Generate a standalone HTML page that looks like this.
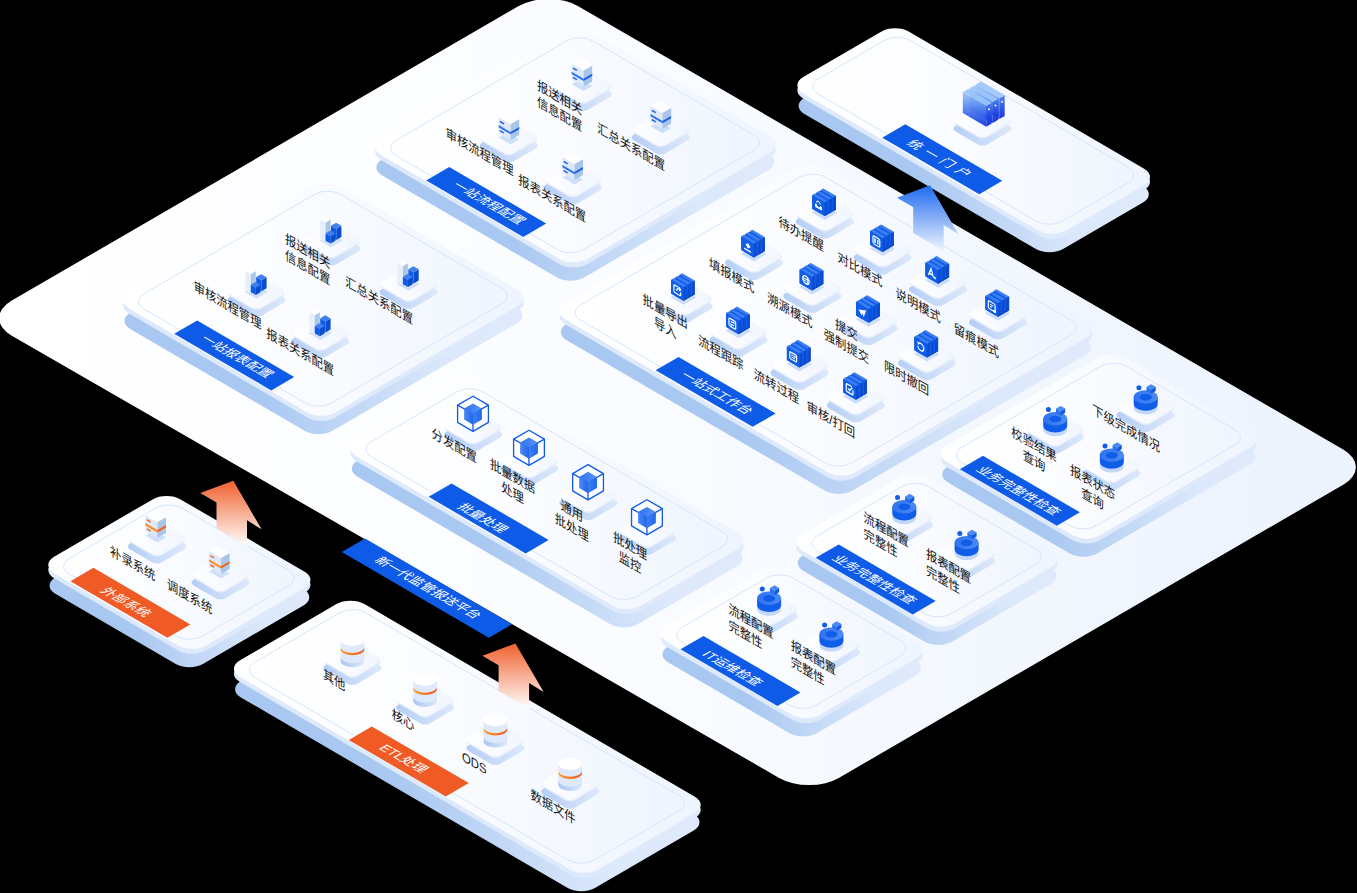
<!DOCTYPE html>
<html lang="zh"><head><meta charset="utf-8"><title>新一代监管报送平台</title>
<style>html,body{margin:0;padding:0;background:#000;}body{width:1357px;height:893px;overflow:hidden;font-family:"Liberation Sans","Noto Sans CJK SC",sans-serif;}svg{display:block}svg text{font-family:"Liberation Sans","Noto Sans CJK SC",sans-serif;}</style>
</head><body>
<svg width="1357" height="893" viewBox="0 0 1357 893">
<defs>
<linearGradient id="g1" gradientUnits="userSpaceOnUse" x1="0" y1="0" x2="1357" y2="0"><stop offset="0" stop-color="#FFFFFF"/><stop offset="0.45" stop-color="#FAFCFF"/><stop offset="1" stop-color="#ECF3FE"/></linearGradient>
<linearGradient id="g2" gradientUnits="userSpaceOnUse" x1="367" y1="0" x2="783.8" y2="0"><stop offset="0" stop-color="#A9C8F1"/><stop offset="0.35" stop-color="#A9C8F1"/><stop offset="0.8" stop-color="#DCE8FB"/><stop offset="1" stop-color="#E0EAFC"/></linearGradient>
<linearGradient id="g3" gradientUnits="userSpaceOnUse" x1="367" y1="0" x2="783.8" y2="0"><stop offset="0" stop-color="#FFFFFF"/><stop offset="0.35" stop-color="#FCFDFF"/><stop offset="1" stop-color="#EEF4FE"/></linearGradient>
<linearGradient id="g4" gradientUnits="userSpaceOnUse" x1="551.9" y1="0" x2="613.9" y2="0"><stop offset="0" stop-color="#B3CDF5"/><stop offset="1" stop-color="#DFE9FB"/></linearGradient>
<linearGradient id="g5" gradientUnits="userSpaceOnUse" x1="551.9" y1="0" x2="613.9" y2="0"><stop offset="0" stop-color="#FFFFFF"/><stop offset="1" stop-color="#F0F5FE"/></linearGradient>
<linearGradient id="g6" gradientUnits="userSpaceOnUse" x1="477.85" y1="0" x2="539.85" y2="0"><stop offset="0" stop-color="#B3CDF5"/><stop offset="1" stop-color="#DFE9FB"/></linearGradient>
<linearGradient id="g7" gradientUnits="userSpaceOnUse" x1="477.85" y1="0" x2="539.85" y2="0"><stop offset="0" stop-color="#FFFFFF"/><stop offset="1" stop-color="#F0F5FE"/></linearGradient>
<linearGradient id="g8" gradientUnits="userSpaceOnUse" x1="629.9" y1="0" x2="691.9" y2="0"><stop offset="0" stop-color="#B3CDF5"/><stop offset="1" stop-color="#DFE9FB"/></linearGradient>
<linearGradient id="g9" gradientUnits="userSpaceOnUse" x1="629.9" y1="0" x2="691.9" y2="0"><stop offset="0" stop-color="#FFFFFF"/><stop offset="1" stop-color="#F0F5FE"/></linearGradient>
<linearGradient id="g10" gradientUnits="userSpaceOnUse" x1="541.9" y1="0" x2="603.9" y2="0"><stop offset="0" stop-color="#B3CDF5"/><stop offset="1" stop-color="#DFE9FB"/></linearGradient>
<linearGradient id="g11" gradientUnits="userSpaceOnUse" x1="541.9" y1="0" x2="603.9" y2="0"><stop offset="0" stop-color="#FFFFFF"/><stop offset="1" stop-color="#F0F5FE"/></linearGradient>
<linearGradient id="g12" gradientUnits="userSpaceOnUse" x1="115" y1="0" x2="531.8" y2="0"><stop offset="0" stop-color="#A9C8F1"/><stop offset="0.35" stop-color="#A9C8F1"/><stop offset="0.8" stop-color="#DCE8FB"/><stop offset="1" stop-color="#E0EAFC"/></linearGradient>
<linearGradient id="g13" gradientUnits="userSpaceOnUse" x1="115" y1="0" x2="531.8" y2="0"><stop offset="0" stop-color="#FFFFFF"/><stop offset="0.35" stop-color="#FCFDFF"/><stop offset="1" stop-color="#EEF4FE"/></linearGradient>
<linearGradient id="g14" gradientUnits="userSpaceOnUse" x1="300.3" y1="0" x2="362.3" y2="0"><stop offset="0" stop-color="#B3CDF5"/><stop offset="1" stop-color="#DFE9FB"/></linearGradient>
<linearGradient id="g15" gradientUnits="userSpaceOnUse" x1="300.3" y1="0" x2="362.3" y2="0"><stop offset="0" stop-color="#FFFFFF"/><stop offset="1" stop-color="#F0F5FE"/></linearGradient>
<linearGradient id="g16" gradientUnits="userSpaceOnUse" x1="225.5" y1="0" x2="287.5" y2="0"><stop offset="0" stop-color="#B3CDF5"/><stop offset="1" stop-color="#DFE9FB"/></linearGradient>
<linearGradient id="g17" gradientUnits="userSpaceOnUse" x1="225.5" y1="0" x2="287.5" y2="0"><stop offset="0" stop-color="#FFFFFF"/><stop offset="1" stop-color="#F0F5FE"/></linearGradient>
<linearGradient id="g18" gradientUnits="userSpaceOnUse" x1="377.6" y1="0" x2="439.6" y2="0"><stop offset="0" stop-color="#B3CDF5"/><stop offset="1" stop-color="#DFE9FB"/></linearGradient>
<linearGradient id="g19" gradientUnits="userSpaceOnUse" x1="377.6" y1="0" x2="439.6" y2="0"><stop offset="0" stop-color="#FFFFFF"/><stop offset="1" stop-color="#F0F5FE"/></linearGradient>
<linearGradient id="g20" gradientUnits="userSpaceOnUse" x1="289.5" y1="0" x2="351.5" y2="0"><stop offset="0" stop-color="#B3CDF5"/><stop offset="1" stop-color="#DFE9FB"/></linearGradient>
<linearGradient id="g21" gradientUnits="userSpaceOnUse" x1="289.5" y1="0" x2="351.5" y2="0"><stop offset="0" stop-color="#FFFFFF"/><stop offset="1" stop-color="#F0F5FE"/></linearGradient>
<linearGradient id="g22" gradientUnits="userSpaceOnUse" x1="551.5" y1="0" x2="1100.45" y2="0"><stop offset="0" stop-color="#A9C8F1"/><stop offset="0.35" stop-color="#A9C8F1"/><stop offset="0.8" stop-color="#DCE8FB"/><stop offset="1" stop-color="#E0EAFC"/></linearGradient>
<linearGradient id="g23" gradientUnits="userSpaceOnUse" x1="551.5" y1="0" x2="1100.45" y2="0"><stop offset="0" stop-color="#FFFFFF"/><stop offset="0.35" stop-color="#FCFDFF"/><stop offset="1" stop-color="#EEF4FE"/></linearGradient>
<linearGradient id="g24" gradientUnits="userSpaceOnUse" x1="793.8" y1="0" x2="855.8" y2="0"><stop offset="0" stop-color="#B3CDF5"/><stop offset="1" stop-color="#DFE9FB"/></linearGradient>
<linearGradient id="g25" gradientUnits="userSpaceOnUse" x1="793.8" y1="0" x2="855.8" y2="0"><stop offset="0" stop-color="#FFFFFF"/><stop offset="1" stop-color="#F0F5FE"/></linearGradient>
<linearGradient id="g26" gradientUnits="userSpaceOnUse" x1="851.7" y1="0" x2="913.7" y2="0"><stop offset="0" stop-color="#B3CDF5"/><stop offset="1" stop-color="#DFE9FB"/></linearGradient>
<linearGradient id="g27" gradientUnits="userSpaceOnUse" x1="851.7" y1="0" x2="913.7" y2="0"><stop offset="0" stop-color="#FFFFFF"/><stop offset="1" stop-color="#F0F5FE"/></linearGradient>
<linearGradient id="g28" gradientUnits="userSpaceOnUse" x1="907" y1="0" x2="969" y2="0"><stop offset="0" stop-color="#B3CDF5"/><stop offset="1" stop-color="#DFE9FB"/></linearGradient>
<linearGradient id="g29" gradientUnits="userSpaceOnUse" x1="907" y1="0" x2="969" y2="0"><stop offset="0" stop-color="#FFFFFF"/><stop offset="1" stop-color="#F0F5FE"/></linearGradient>
<linearGradient id="g30" gradientUnits="userSpaceOnUse" x1="967" y1="0" x2="1029" y2="0"><stop offset="0" stop-color="#B3CDF5"/><stop offset="1" stop-color="#DFE9FB"/></linearGradient>
<linearGradient id="g31" gradientUnits="userSpaceOnUse" x1="967" y1="0" x2="1029" y2="0"><stop offset="0" stop-color="#FFFFFF"/><stop offset="1" stop-color="#F0F5FE"/></linearGradient>
<linearGradient id="g32" gradientUnits="userSpaceOnUse" x1="722.9" y1="0" x2="784.9" y2="0"><stop offset="0" stop-color="#B3CDF5"/><stop offset="1" stop-color="#DFE9FB"/></linearGradient>
<linearGradient id="g33" gradientUnits="userSpaceOnUse" x1="722.9" y1="0" x2="784.9" y2="0"><stop offset="0" stop-color="#FFFFFF"/><stop offset="1" stop-color="#F0F5FE"/></linearGradient>
<linearGradient id="g34" gradientUnits="userSpaceOnUse" x1="781.25" y1="0" x2="843.25" y2="0"><stop offset="0" stop-color="#B3CDF5"/><stop offset="1" stop-color="#DFE9FB"/></linearGradient>
<linearGradient id="g35" gradientUnits="userSpaceOnUse" x1="781.25" y1="0" x2="843.25" y2="0"><stop offset="0" stop-color="#FFFFFF"/><stop offset="1" stop-color="#F0F5FE"/></linearGradient>
<linearGradient id="g36" gradientUnits="userSpaceOnUse" x1="837.7" y1="0" x2="899.7" y2="0"><stop offset="0" stop-color="#B3CDF5"/><stop offset="1" stop-color="#DFE9FB"/></linearGradient>
<linearGradient id="g37" gradientUnits="userSpaceOnUse" x1="837.7" y1="0" x2="899.7" y2="0"><stop offset="0" stop-color="#FFFFFF"/><stop offset="1" stop-color="#F0F5FE"/></linearGradient>
<linearGradient id="g38" gradientUnits="userSpaceOnUse" x1="896" y1="0" x2="958" y2="0"><stop offset="0" stop-color="#B3CDF5"/><stop offset="1" stop-color="#DFE9FB"/></linearGradient>
<linearGradient id="g39" gradientUnits="userSpaceOnUse" x1="896" y1="0" x2="958" y2="0"><stop offset="0" stop-color="#FFFFFF"/><stop offset="1" stop-color="#F0F5FE"/></linearGradient>
<linearGradient id="g40" gradientUnits="userSpaceOnUse" x1="652.6" y1="0" x2="714.6" y2="0"><stop offset="0" stop-color="#B3CDF5"/><stop offset="1" stop-color="#DFE9FB"/></linearGradient>
<linearGradient id="g41" gradientUnits="userSpaceOnUse" x1="652.6" y1="0" x2="714.6" y2="0"><stop offset="0" stop-color="#FFFFFF"/><stop offset="1" stop-color="#F0F5FE"/></linearGradient>
<linearGradient id="g42" gradientUnits="userSpaceOnUse" x1="707.6" y1="0" x2="769.6" y2="0"><stop offset="0" stop-color="#B3CDF5"/><stop offset="1" stop-color="#DFE9FB"/></linearGradient>
<linearGradient id="g43" gradientUnits="userSpaceOnUse" x1="707.6" y1="0" x2="769.6" y2="0"><stop offset="0" stop-color="#FFFFFF"/><stop offset="1" stop-color="#F0F5FE"/></linearGradient>
<linearGradient id="g44" gradientUnits="userSpaceOnUse" x1="768.5" y1="0" x2="830.5" y2="0"><stop offset="0" stop-color="#B3CDF5"/><stop offset="1" stop-color="#DFE9FB"/></linearGradient>
<linearGradient id="g45" gradientUnits="userSpaceOnUse" x1="768.5" y1="0" x2="830.5" y2="0"><stop offset="0" stop-color="#FFFFFF"/><stop offset="1" stop-color="#F0F5FE"/></linearGradient>
<linearGradient id="g46" gradientUnits="userSpaceOnUse" x1="824.9" y1="0" x2="886.9" y2="0"><stop offset="0" stop-color="#B3CDF5"/><stop offset="1" stop-color="#DFE9FB"/></linearGradient>
<linearGradient id="g47" gradientUnits="userSpaceOnUse" x1="824.9" y1="0" x2="886.9" y2="0"><stop offset="0" stop-color="#FFFFFF"/><stop offset="1" stop-color="#F0F5FE"/></linearGradient>
<linearGradient id="g48" gradientUnits="userSpaceOnUse" x1="342.35" y1="0" x2="751.95" y2="0"><stop offset="0" stop-color="#A9C8F1"/><stop offset="0.35" stop-color="#A9C8F1"/><stop offset="0.8" stop-color="#DCE8FB"/><stop offset="1" stop-color="#E0EAFC"/></linearGradient>
<linearGradient id="g49" gradientUnits="userSpaceOnUse" x1="342.35" y1="0" x2="751.95" y2="0"><stop offset="0" stop-color="#FFFFFF"/><stop offset="0.35" stop-color="#FCFDFF"/><stop offset="1" stop-color="#EEF4FE"/></linearGradient>
<linearGradient id="g50" gradientUnits="userSpaceOnUse" x1="442.3" y1="0" x2="504.3" y2="0"><stop offset="0" stop-color="#B3CDF5"/><stop offset="1" stop-color="#DFE9FB"/></linearGradient>
<linearGradient id="g51" gradientUnits="userSpaceOnUse" x1="442.3" y1="0" x2="504.3" y2="0"><stop offset="0" stop-color="#FFFFFF"/><stop offset="1" stop-color="#F0F5FE"/></linearGradient>
<linearGradient id="g52" gradientUnits="userSpaceOnUse" x1="464.1" y1="413.8" x2="481.9" y2="413.8"><stop offset="0" stop-color="#2D72F0"/><stop offset="1" stop-color="#5B93F4"/></linearGradient>
<linearGradient id="g53" gradientUnits="userSpaceOnUse" x1="464.1" y1="413.8" x2="473" y2="413.8"><stop offset="0" stop-color="#4F8AF3"/><stop offset="1" stop-color="#1E66EC"/></linearGradient>
<linearGradient id="g54" gradientUnits="userSpaceOnUse" x1="473" y1="413.8" x2="481.9" y2="413.8"><stop offset="0" stop-color="#3F7EF1"/><stop offset="1" stop-color="#1F67EC"/></linearGradient>
<linearGradient id="g55" gradientUnits="userSpaceOnUse" x1="498.3" y1="0" x2="560.3" y2="0"><stop offset="0" stop-color="#B3CDF5"/><stop offset="1" stop-color="#DFE9FB"/></linearGradient>
<linearGradient id="g56" gradientUnits="userSpaceOnUse" x1="498.3" y1="0" x2="560.3" y2="0"><stop offset="0" stop-color="#FFFFFF"/><stop offset="1" stop-color="#F0F5FE"/></linearGradient>
<linearGradient id="g57" gradientUnits="userSpaceOnUse" x1="520.1" y1="447.8" x2="537.9" y2="447.8"><stop offset="0" stop-color="#2D72F0"/><stop offset="1" stop-color="#5B93F4"/></linearGradient>
<linearGradient id="g58" gradientUnits="userSpaceOnUse" x1="520.1" y1="447.8" x2="529" y2="447.8"><stop offset="0" stop-color="#4F8AF3"/><stop offset="1" stop-color="#1E66EC"/></linearGradient>
<linearGradient id="g59" gradientUnits="userSpaceOnUse" x1="529" y1="447.8" x2="537.9" y2="447.8"><stop offset="0" stop-color="#3F7EF1"/><stop offset="1" stop-color="#1F67EC"/></linearGradient>
<linearGradient id="g60" gradientUnits="userSpaceOnUse" x1="557.35" y1="0" x2="619.35" y2="0"><stop offset="0" stop-color="#B3CDF5"/><stop offset="1" stop-color="#DFE9FB"/></linearGradient>
<linearGradient id="g61" gradientUnits="userSpaceOnUse" x1="557.35" y1="0" x2="619.35" y2="0"><stop offset="0" stop-color="#FFFFFF"/><stop offset="1" stop-color="#F0F5FE"/></linearGradient>
<linearGradient id="g62" gradientUnits="userSpaceOnUse" x1="579.15" y1="482.25" x2="596.95" y2="482.25"><stop offset="0" stop-color="#2D72F0"/><stop offset="1" stop-color="#5B93F4"/></linearGradient>
<linearGradient id="g63" gradientUnits="userSpaceOnUse" x1="579.15" y1="482.25" x2="588.05" y2="482.25"><stop offset="0" stop-color="#4F8AF3"/><stop offset="1" stop-color="#1E66EC"/></linearGradient>
<linearGradient id="g64" gradientUnits="userSpaceOnUse" x1="588.05" y1="482.25" x2="596.95" y2="482.25"><stop offset="0" stop-color="#3F7EF1"/><stop offset="1" stop-color="#1F67EC"/></linearGradient>
<linearGradient id="g65" gradientUnits="userSpaceOnUse" x1="616.25" y1="0" x2="678.25" y2="0"><stop offset="0" stop-color="#B3CDF5"/><stop offset="1" stop-color="#DFE9FB"/></linearGradient>
<linearGradient id="g66" gradientUnits="userSpaceOnUse" x1="616.25" y1="0" x2="678.25" y2="0"><stop offset="0" stop-color="#FFFFFF"/><stop offset="1" stop-color="#F0F5FE"/></linearGradient>
<linearGradient id="g67" gradientUnits="userSpaceOnUse" x1="638.05" y1="517.3" x2="655.85" y2="517.3"><stop offset="0" stop-color="#2D72F0"/><stop offset="1" stop-color="#5B93F4"/></linearGradient>
<linearGradient id="g68" gradientUnits="userSpaceOnUse" x1="638.05" y1="517.3" x2="646.95" y2="517.3"><stop offset="0" stop-color="#4F8AF3"/><stop offset="1" stop-color="#1E66EC"/></linearGradient>
<linearGradient id="g69" gradientUnits="userSpaceOnUse" x1="646.95" y1="517.3" x2="655.85" y2="517.3"><stop offset="0" stop-color="#3F7EF1"/><stop offset="1" stop-color="#1F67EC"/></linearGradient>
<linearGradient id="g70" gradientUnits="userSpaceOnUse" x1="932.85" y1="0" x2="1264.8" y2="0"><stop offset="0" stop-color="#A9C8F1"/><stop offset="0.35" stop-color="#A9C8F1"/><stop offset="0.8" stop-color="#DCE8FB"/><stop offset="1" stop-color="#E0EAFC"/></linearGradient>
<linearGradient id="g71" gradientUnits="userSpaceOnUse" x1="932.85" y1="0" x2="1264.8" y2="0"><stop offset="0" stop-color="#FFFFFF"/><stop offset="0.35" stop-color="#FCFDFF"/><stop offset="1" stop-color="#EEF4FE"/></linearGradient>
<linearGradient id="g72" gradientUnits="userSpaceOnUse" x1="788.35" y1="0" x2="1065.75" y2="0"><stop offset="0" stop-color="#A9C8F1"/><stop offset="0.35" stop-color="#A9C8F1"/><stop offset="0.8" stop-color="#DCE8FB"/><stop offset="1" stop-color="#E0EAFC"/></linearGradient>
<linearGradient id="g73" gradientUnits="userSpaceOnUse" x1="788.35" y1="0" x2="1065.75" y2="0"><stop offset="0" stop-color="#FFFFFF"/><stop offset="0.35" stop-color="#FCFDFF"/><stop offset="1" stop-color="#EEF4FE"/></linearGradient>
<linearGradient id="g74" gradientUnits="userSpaceOnUse" x1="653.15" y1="0" x2="930.55" y2="0"><stop offset="0" stop-color="#A9C8F1"/><stop offset="0.35" stop-color="#A9C8F1"/><stop offset="0.8" stop-color="#DCE8FB"/><stop offset="1" stop-color="#E0EAFC"/></linearGradient>
<linearGradient id="g75" gradientUnits="userSpaceOnUse" x1="653.15" y1="0" x2="930.55" y2="0"><stop offset="0" stop-color="#FFFFFF"/><stop offset="0.35" stop-color="#FCFDFF"/><stop offset="1" stop-color="#EEF4FE"/></linearGradient>
<linearGradient id="g76" gradientUnits="userSpaceOnUse" x1="1024" y1="0" x2="1086" y2="0"><stop offset="0" stop-color="#B3CDF5"/><stop offset="1" stop-color="#DFE9FB"/></linearGradient>
<linearGradient id="g77" gradientUnits="userSpaceOnUse" x1="1024" y1="0" x2="1086" y2="0"><stop offset="0" stop-color="#FFFFFF"/><stop offset="1" stop-color="#F0F5FE"/></linearGradient>
<linearGradient id="g78" gradientUnits="userSpaceOnUse" x1="1043.2" y1="0" x2="1067.2" y2="0"><stop offset="0" stop-color="#2F73F0"/><stop offset="1" stop-color="#4D8AF4"/></linearGradient>
<linearGradient id="g79" gradientUnits="userSpaceOnUse" x1="1114.5" y1="0" x2="1176.5" y2="0"><stop offset="0" stop-color="#B3CDF5"/><stop offset="1" stop-color="#DFE9FB"/></linearGradient>
<linearGradient id="g80" gradientUnits="userSpaceOnUse" x1="1114.5" y1="0" x2="1176.5" y2="0"><stop offset="0" stop-color="#FFFFFF"/><stop offset="1" stop-color="#F0F5FE"/></linearGradient>
<linearGradient id="g81" gradientUnits="userSpaceOnUse" x1="1133.7" y1="0" x2="1157.7" y2="0"><stop offset="0" stop-color="#2F73F0"/><stop offset="1" stop-color="#4D8AF4"/></linearGradient>
<linearGradient id="g82" gradientUnits="userSpaceOnUse" x1="1080.6" y1="0" x2="1142.6" y2="0"><stop offset="0" stop-color="#B3CDF5"/><stop offset="1" stop-color="#DFE9FB"/></linearGradient>
<linearGradient id="g83" gradientUnits="userSpaceOnUse" x1="1080.6" y1="0" x2="1142.6" y2="0"><stop offset="0" stop-color="#FFFFFF"/><stop offset="1" stop-color="#F0F5FE"/></linearGradient>
<linearGradient id="g84" gradientUnits="userSpaceOnUse" x1="1099.8" y1="0" x2="1123.8" y2="0"><stop offset="0" stop-color="#2F73F0"/><stop offset="1" stop-color="#4D8AF4"/></linearGradient>
<linearGradient id="g85" gradientUnits="userSpaceOnUse" x1="873.1" y1="0" x2="935.1" y2="0"><stop offset="0" stop-color="#B3CDF5"/><stop offset="1" stop-color="#DFE9FB"/></linearGradient>
<linearGradient id="g86" gradientUnits="userSpaceOnUse" x1="873.1" y1="0" x2="935.1" y2="0"><stop offset="0" stop-color="#FFFFFF"/><stop offset="1" stop-color="#F0F5FE"/></linearGradient>
<linearGradient id="g87" gradientUnits="userSpaceOnUse" x1="892.3" y1="0" x2="916.3" y2="0"><stop offset="0" stop-color="#2F73F0"/><stop offset="1" stop-color="#4D8AF4"/></linearGradient>
<linearGradient id="g88" gradientUnits="userSpaceOnUse" x1="935.4" y1="0" x2="997.4" y2="0"><stop offset="0" stop-color="#B3CDF5"/><stop offset="1" stop-color="#DFE9FB"/></linearGradient>
<linearGradient id="g89" gradientUnits="userSpaceOnUse" x1="935.4" y1="0" x2="997.4" y2="0"><stop offset="0" stop-color="#FFFFFF"/><stop offset="1" stop-color="#F0F5FE"/></linearGradient>
<linearGradient id="g90" gradientUnits="userSpaceOnUse" x1="954.6" y1="0" x2="978.6" y2="0"><stop offset="0" stop-color="#2F73F0"/><stop offset="1" stop-color="#4D8AF4"/></linearGradient>
<linearGradient id="g91" gradientUnits="userSpaceOnUse" x1="737.9" y1="0" x2="799.9" y2="0"><stop offset="0" stop-color="#B3CDF5"/><stop offset="1" stop-color="#DFE9FB"/></linearGradient>
<linearGradient id="g92" gradientUnits="userSpaceOnUse" x1="737.9" y1="0" x2="799.9" y2="0"><stop offset="0" stop-color="#FFFFFF"/><stop offset="1" stop-color="#F0F5FE"/></linearGradient>
<linearGradient id="g93" gradientUnits="userSpaceOnUse" x1="757.1" y1="0" x2="781.1" y2="0"><stop offset="0" stop-color="#2F73F0"/><stop offset="1" stop-color="#4D8AF4"/></linearGradient>
<linearGradient id="g94" gradientUnits="userSpaceOnUse" x1="800.2" y1="0" x2="862.2" y2="0"><stop offset="0" stop-color="#B3CDF5"/><stop offset="1" stop-color="#DFE9FB"/></linearGradient>
<linearGradient id="g95" gradientUnits="userSpaceOnUse" x1="800.2" y1="0" x2="862.2" y2="0"><stop offset="0" stop-color="#FFFFFF"/><stop offset="1" stop-color="#F0F5FE"/></linearGradient>
<linearGradient id="g96" gradientUnits="userSpaceOnUse" x1="819.4" y1="0" x2="843.4" y2="0"><stop offset="0" stop-color="#2F73F0"/><stop offset="1" stop-color="#4D8AF4"/></linearGradient>
<linearGradient id="g97" gradientUnits="userSpaceOnUse" x1="789.2" y1="0" x2="1158.2" y2="0"><stop offset="0" stop-color="#A9C8F1"/><stop offset="0.35" stop-color="#A9C8F1"/><stop offset="0.8" stop-color="#DCE8FB"/><stop offset="1" stop-color="#E0EAFC"/></linearGradient>
<linearGradient id="g98" gradientUnits="userSpaceOnUse" x1="789.2" y1="0" x2="1158.2" y2="0"><stop offset="0" stop-color="#FFFFFF"/><stop offset="0.35" stop-color="#FCFDFF"/><stop offset="1" stop-color="#EEF4FE"/></linearGradient>
<linearGradient id="g99" gradientUnits="userSpaceOnUse" x1="951.6" y1="0" x2="1013.6" y2="0"><stop offset="0" stop-color="#B3CDF5"/><stop offset="1" stop-color="#DFE9FB"/></linearGradient>
<linearGradient id="g100" gradientUnits="userSpaceOnUse" x1="951.6" y1="0" x2="1013.6" y2="0"><stop offset="0" stop-color="#FFFFFF"/><stop offset="1" stop-color="#F0F5FE"/></linearGradient>
<linearGradient id="g101" gradientUnits="userSpaceOnUse" x1="0" y1="81.47" x2="0" y2="119.12"><stop offset="0" stop-color="#A9CEFB"/><stop offset="0.45" stop-color="#5C8FF0"/><stop offset="1" stop-color="#0A2FE0"/></linearGradient>
<linearGradient id="g102" gradientUnits="userSpaceOnUse" x1="0" y1="81.47" x2="0" y2="119.12"><stop offset="0" stop-color="#8DB9F8"/><stop offset="0.5" stop-color="#3B66EA"/><stop offset="1" stop-color="#0A25D6"/></linearGradient>
<linearGradient id="g103" gradientUnits="userSpaceOnUse" x1="0" y1="85.26" x2="0" y2="122.91"><stop offset="0" stop-color="#A9CEFB"/><stop offset="0.45" stop-color="#5C8FF0"/><stop offset="1" stop-color="#0A2FE0"/></linearGradient>
<linearGradient id="g104" gradientUnits="userSpaceOnUse" x1="0" y1="85.26" x2="0" y2="122.91"><stop offset="0" stop-color="#8DB9F8"/><stop offset="0.5" stop-color="#3B66EA"/><stop offset="1" stop-color="#0A25D6"/></linearGradient>
<linearGradient id="g105" gradientUnits="userSpaceOnUse" x1="0" y1="89.05" x2="0" y2="126.7"><stop offset="0" stop-color="#A9CEFB"/><stop offset="0.45" stop-color="#5C8FF0"/><stop offset="1" stop-color="#0A2FE0"/></linearGradient>
<linearGradient id="g106" gradientUnits="userSpaceOnUse" x1="0" y1="89.05" x2="0" y2="126.7"><stop offset="0" stop-color="#8DB9F8"/><stop offset="0.5" stop-color="#3B66EA"/><stop offset="1" stop-color="#0A25D6"/></linearGradient>
<linearGradient id="g107" gradientUnits="userSpaceOnUse" x1="0" y1="185.3" x2="0" y2="250.8"><stop offset="0" stop-color="#1E6AF0"/><stop offset="1" stop-color="#EEF4FE"/></linearGradient>
<linearGradient id="g108" gradientUnits="userSpaceOnUse" x1="40.1" y1="0" x2="318.65" y2="0"><stop offset="0" stop-color="#A9C8F1"/><stop offset="0.35" stop-color="#A9C8F1"/><stop offset="0.8" stop-color="#DCE8FB"/><stop offset="1" stop-color="#E0EAFC"/></linearGradient>
<linearGradient id="g109" gradientUnits="userSpaceOnUse" x1="40.1" y1="0" x2="318.65" y2="0"><stop offset="0" stop-color="#FFFFFF"/><stop offset="0.35" stop-color="#FCFDFF"/><stop offset="1" stop-color="#EEF4FE"/></linearGradient>
<linearGradient id="g110" gradientUnits="userSpaceOnUse" x1="126" y1="0" x2="188" y2="0"><stop offset="0" stop-color="#B3CDF5"/><stop offset="1" stop-color="#DFE9FB"/></linearGradient>
<linearGradient id="g111" gradientUnits="userSpaceOnUse" x1="126" y1="0" x2="188" y2="0"><stop offset="0" stop-color="#FFFFFF"/><stop offset="1" stop-color="#F0F5FE"/></linearGradient>
<linearGradient id="g112" gradientUnits="userSpaceOnUse" x1="189.6" y1="0" x2="251.6" y2="0"><stop offset="0" stop-color="#B3CDF5"/><stop offset="1" stop-color="#DFE9FB"/></linearGradient>
<linearGradient id="g113" gradientUnits="userSpaceOnUse" x1="189.6" y1="0" x2="251.6" y2="0"><stop offset="0" stop-color="#FFFFFF"/><stop offset="1" stop-color="#F0F5FE"/></linearGradient>
<linearGradient id="g114" gradientUnits="userSpaceOnUse" x1="225.7" y1="0" x2="708.9" y2="0"><stop offset="0" stop-color="#A9C8F1"/><stop offset="0.35" stop-color="#A9C8F1"/><stop offset="0.8" stop-color="#DCE8FB"/><stop offset="1" stop-color="#E0EAFC"/></linearGradient>
<linearGradient id="g115" gradientUnits="userSpaceOnUse" x1="225.7" y1="0" x2="708.9" y2="0"><stop offset="0" stop-color="#FFFFFF"/><stop offset="0.35" stop-color="#FCFDFF"/><stop offset="1" stop-color="#EEF4FE"/></linearGradient>
<linearGradient id="g116" gradientUnits="userSpaceOnUse" x1="321.5" y1="0" x2="383.5" y2="0"><stop offset="0" stop-color="#B3CDF5"/><stop offset="1" stop-color="#DFE9FB"/></linearGradient>
<linearGradient id="g117" gradientUnits="userSpaceOnUse" x1="321.5" y1="0" x2="383.5" y2="0"><stop offset="0" stop-color="#FFFFFF"/><stop offset="1" stop-color="#F0F5FE"/></linearGradient>
<linearGradient id="g118" gradientUnits="userSpaceOnUse" x1="340.7" y1="0" x2="364.3" y2="0"><stop offset="0" stop-color="#A9C7F2"/><stop offset="1" stop-color="#DCE8FB"/></linearGradient>
<linearGradient id="g119" gradientUnits="userSpaceOnUse" x1="340.7" y1="0" x2="364.3" y2="0"><stop offset="0" stop-color="#FF9B24"/><stop offset="1" stop-color="#F0561E"/></linearGradient>
<linearGradient id="g120" gradientUnits="userSpaceOnUse" x1="394.1" y1="0" x2="456.1" y2="0"><stop offset="0" stop-color="#B3CDF5"/><stop offset="1" stop-color="#DFE9FB"/></linearGradient>
<linearGradient id="g121" gradientUnits="userSpaceOnUse" x1="394.1" y1="0" x2="456.1" y2="0"><stop offset="0" stop-color="#FFFFFF"/><stop offset="1" stop-color="#F0F5FE"/></linearGradient>
<linearGradient id="g122" gradientUnits="userSpaceOnUse" x1="413.3" y1="0" x2="436.9" y2="0"><stop offset="0" stop-color="#A9C7F2"/><stop offset="1" stop-color="#DCE8FB"/></linearGradient>
<linearGradient id="g123" gradientUnits="userSpaceOnUse" x1="413.3" y1="0" x2="436.9" y2="0"><stop offset="0" stop-color="#FF9B24"/><stop offset="1" stop-color="#F0561E"/></linearGradient>
<linearGradient id="g124" gradientUnits="userSpaceOnUse" x1="464.5" y1="0" x2="526.5" y2="0"><stop offset="0" stop-color="#B3CDF5"/><stop offset="1" stop-color="#DFE9FB"/></linearGradient>
<linearGradient id="g125" gradientUnits="userSpaceOnUse" x1="464.5" y1="0" x2="526.5" y2="0"><stop offset="0" stop-color="#FFFFFF"/><stop offset="1" stop-color="#F0F5FE"/></linearGradient>
<linearGradient id="g126" gradientUnits="userSpaceOnUse" x1="483.7" y1="0" x2="507.3" y2="0"><stop offset="0" stop-color="#A9C7F2"/><stop offset="1" stop-color="#DCE8FB"/></linearGradient>
<linearGradient id="g127" gradientUnits="userSpaceOnUse" x1="483.7" y1="0" x2="507.3" y2="0"><stop offset="0" stop-color="#FF9B24"/><stop offset="1" stop-color="#F0561E"/></linearGradient>
<linearGradient id="g128" gradientUnits="userSpaceOnUse" x1="539.2" y1="0" x2="601.2" y2="0"><stop offset="0" stop-color="#B3CDF5"/><stop offset="1" stop-color="#DFE9FB"/></linearGradient>
<linearGradient id="g129" gradientUnits="userSpaceOnUse" x1="539.2" y1="0" x2="601.2" y2="0"><stop offset="0" stop-color="#FFFFFF"/><stop offset="1" stop-color="#F0F5FE"/></linearGradient>
<linearGradient id="g130" gradientUnits="userSpaceOnUse" x1="558.4" y1="0" x2="582" y2="0"><stop offset="0" stop-color="#A9C7F2"/><stop offset="1" stop-color="#DCE8FB"/></linearGradient>
<linearGradient id="g131" gradientUnits="userSpaceOnUse" x1="558.4" y1="0" x2="582" y2="0"><stop offset="0" stop-color="#FF9B24"/><stop offset="1" stop-color="#F0561E"/></linearGradient>
<linearGradient id="g132" gradientUnits="userSpaceOnUse" x1="0" y1="480.7" x2="0" y2="546.2"><stop offset="0" stop-color="#F0602D"/><stop offset="1" stop-color="#FFFFFF"/></linearGradient>
<linearGradient id="g133" gradientUnits="userSpaceOnUse" x1="0" y1="643.4" x2="0" y2="708.9"><stop offset="0" stop-color="#F0602D"/><stop offset="1" stop-color="#FFFFFF"/></linearGradient>
</defs>
<rect width="1357" height="893" fill="#000"/>
<path d="M11.37 300.82L518.21 6.26A42.43 24.73 0 0 1 578.21 6.21L1343.62 449.66A42.43 24.73 0 0 1 1343.62 484.48L839.2 777.75A42.43 24.73 0 0 1 779.2 777.9L11.37 335.54A42.43 24.73 0 0 1 11.37 300.82Z" fill="url(#g1)"/>
<path d="M382.2 159.27L566.2 52A19.8 11.54 0 0 1 594.2 52L768.6 153.67A19.8 11.54 0 0 1 768.6 170L584.6 277.27A19.8 11.54 0 0 1 556.6 277.27L382.2 175.59A19.8 11.54 0 0 1 382.2 159.27Z" fill="url(#g2)"/>
<path d="M381 143.64L563.4 37.3A19.8 11.54 0 0 1 591.4 37.3L769.8 141.31A19.8 11.54 0 0 1 769.8 157.63L587.4 263.97A19.8 11.54 0 0 1 559.4 263.97L381 159.96A19.8 11.54 0 0 1 381 143.64Z" fill="#DEEAFC"/>
<path d="M381 138.64L563.4 32.3A19.8 11.54 0 0 1 591.4 32.3L769.8 136.31A19.8 11.54 0 0 1 769.8 152.63L587.4 258.97A19.8 11.54 0 0 1 559.4 258.97L381 154.96A19.8 11.54 0 0 1 381 138.64Z" fill="url(#g3)"/>
<path d="M396 140.39L566.6 40.93A18.38 10.72 0 0 1 592.6 40.93L754 135.02A18.38 10.72 0 0 1 754 150.18L583.4 249.64A18.38 10.72 0 0 1 557.4 249.64L396 155.54A18.38 10.72 0 0 1 396 140.39Z" fill="none" stroke="#D2E2FB" stroke-width="0.9"/>
<polygon points="426.2,180.38 449.2,166.97 546.2,223.52 523.2,236.93" fill="#0E5BE8"/>
<g fill="#fff" transform="matrix(0.87 0.5 -0.87 0.5 455.53 183.25)" aria-label="一站流程配置"><text x="0" y="4.94" font-size="13">一站流程配置</text></g>
<path d="M555.9 91.08L577.9 78.26A7.07 4.12 0 0 1 587.9 78.26L609.9 91.08A7.07 4.12 0 0 1 609.9 96.91L587.9 109.74A7.07 4.12 0 0 1 577.9 109.74L555.9 96.91A7.07 4.12 0 0 1 555.9 91.08Z" fill="url(#g4)"/>
<path d="M556.9 84.58L577.9 72.34A7.07 4.12 0 0 1 587.9 72.34L608.9 84.58A7.07 4.12 0 0 1 608.9 90.41L587.9 102.66A7.07 4.12 0 0 1 577.9 102.66L556.9 90.41A7.07 4.12 0 0 1 556.9 84.58Z" fill="#E4EDFC"/>
<path d="M556.9 83.08L577.9 70.84A7.07 4.12 0 0 1 587.9 70.84L608.9 83.08A7.07 4.12 0 0 1 608.9 88.91L587.9 101.16A7.07 4.12 0 0 1 577.9 101.16L556.9 88.91A7.07 4.12 0 0 1 556.9 83.08Z" fill="url(#g5)"/>
<polygon points="583.6,91.05 571.6,84.05 580.2,79.04 592.2,86.04" fill="#C3D8F7" opacity="0.8"/>
<polygon points="571.6,63.55 583.6,70.55 583.6,86.55 571.6,79.55" fill="#DDE9FB"/>
<polygon points="583.6,70.55 592.2,65.54 592.2,81.54 583.6,86.55" fill="#A9C6E9"/>
<polygon points="580.2,58.54 592.2,65.54 583.6,70.55 571.6,63.55" fill="#FFFFFF"/>
<polygon points="571.6,71.65 583.6,78.65 583.6,80.95 571.6,73.95" fill="#2F6FED"/>
<polygon points="583.6,78.65 592.2,73.64 592.2,75.94 583.6,80.95" fill="#1C5DE2"/>
<path d="M572.9 68.11L576.9 70.44" stroke="#1C5DE2" stroke-width="1.4" fill="none"/>
<path d="M572.9 77.31L576.9 79.64" stroke="#1C5DE2" stroke-width="1.4" fill="none"/>
<path d="M481.85 142.69L503.85 129.86A7.07 4.12 0 0 1 513.85 129.86L535.85 142.69A7.07 4.12 0 0 1 535.85 148.51L513.85 161.34A7.07 4.12 0 0 1 503.85 161.34L481.85 148.51A7.07 4.12 0 0 1 481.85 142.69Z" fill="url(#g6)"/>
<path d="M482.85 136.19L503.85 123.94A7.07 4.12 0 0 1 513.85 123.94L534.85 136.19A7.07 4.12 0 0 1 534.85 142.01L513.85 154.26A7.07 4.12 0 0 1 503.85 154.26L482.85 142.01A7.07 4.12 0 0 1 482.85 136.19Z" fill="#E4EDFC"/>
<path d="M482.85 134.69L503.85 122.44A7.07 4.12 0 0 1 513.85 122.44L534.85 134.69A7.07 4.12 0 0 1 534.85 140.51L513.85 152.76A7.07 4.12 0 0 1 503.85 152.76L482.85 140.51A7.07 4.12 0 0 1 482.85 134.69Z" fill="url(#g7)"/>
<polygon points="510.6,144.4 498.6,137.4 507.2,132.39 519.2,139.39" fill="#C3D8F7" opacity="0.8"/>
<polygon points="498.6,116.9 510.6,123.9 510.6,139.9 498.6,132.9" fill="#DDE9FB"/>
<polygon points="510.6,123.9 519.2,118.89 519.2,134.89 510.6,139.9" fill="#A9C6E9"/>
<polygon points="507.2,111.89 519.2,118.89 510.6,123.9 498.6,116.9" fill="#FFFFFF"/>
<polygon points="498.6,125 510.6,132 510.6,134.3 498.6,127.3" fill="#2F6FED"/>
<polygon points="510.6,132 519.2,126.99 519.2,129.29 510.6,134.3" fill="#1C5DE2"/>
<path d="M499.9 121.46L503.9 123.79" stroke="#1C5DE2" stroke-width="1.4" fill="none"/>
<path d="M499.9 130.66L503.9 132.99" stroke="#1C5DE2" stroke-width="1.4" fill="none"/>
<path d="M633.9 134.48L655.9 121.66A7.07 4.12 0 0 1 665.9 121.66L687.9 134.48A7.07 4.12 0 0 1 687.9 140.31L665.9 153.14A7.07 4.12 0 0 1 655.9 153.14L633.9 140.31A7.07 4.12 0 0 1 633.9 134.48Z" fill="url(#g8)"/>
<path d="M634.9 127.98L655.9 115.74A7.07 4.12 0 0 1 665.9 115.74L686.9 127.98A7.07 4.12 0 0 1 686.9 133.81L665.9 146.06A7.07 4.12 0 0 1 655.9 146.06L634.9 133.81A7.07 4.12 0 0 1 634.9 127.98Z" fill="#E4EDFC"/>
<path d="M634.9 126.48L655.9 114.24A7.07 4.12 0 0 1 665.9 114.24L686.9 126.48A7.07 4.12 0 0 1 686.9 132.31L665.9 144.56A7.07 4.12 0 0 1 655.9 144.56L634.9 132.31A7.07 4.12 0 0 1 634.9 126.48Z" fill="url(#g9)"/>
<polygon points="662.5,133.3 650.5,126.3 659.1,121.29 671.1,128.29" fill="#C3D8F7" opacity="0.8"/>
<polygon points="650.5,105.8 662.5,112.8 662.5,128.8 650.5,121.8" fill="#DDE9FB"/>
<polygon points="662.5,112.8 671.1,107.79 671.1,123.79 662.5,128.8" fill="#A9C6E9"/>
<polygon points="659.1,100.79 671.1,107.79 662.5,112.8 650.5,105.8" fill="#FFFFFF"/>
<polygon points="650.5,113.9 662.5,120.9 662.5,123.2 650.5,116.2" fill="#2F6FED"/>
<polygon points="662.5,120.9 671.1,115.89 671.1,118.19 662.5,123.2" fill="#1C5DE2"/>
<path d="M651.8 110.36L655.8 112.69" stroke="#1C5DE2" stroke-width="1.4" fill="none"/>
<path d="M651.8 119.56L655.8 121.89" stroke="#1C5DE2" stroke-width="1.4" fill="none"/>
<path d="M545.9 184.59L567.9 171.76A7.07 4.12 0 0 1 577.9 171.76L599.9 184.59A7.07 4.12 0 0 1 599.9 190.42L577.9 203.24A7.07 4.12 0 0 1 567.9 203.24L545.9 190.42A7.07 4.12 0 0 1 545.9 184.59Z" fill="url(#g10)"/>
<path d="M546.9 178.09L567.9 165.84A7.07 4.12 0 0 1 577.9 165.84L598.9 178.09A7.07 4.12 0 0 1 598.9 183.92L577.9 196.16A7.07 4.12 0 0 1 567.9 196.16L546.9 183.92A7.07 4.12 0 0 1 546.9 178.09Z" fill="#E4EDFC"/>
<path d="M546.9 176.59L567.9 164.34A7.07 4.12 0 0 1 577.9 164.34L598.9 176.59A7.07 4.12 0 0 1 598.9 182.42L577.9 194.66A7.07 4.12 0 0 1 567.9 194.66L546.9 182.42A7.07 4.12 0 0 1 546.9 176.59Z" fill="url(#g11)"/>
<polygon points="574.4,184.4 562.4,177.4 571,172.39 583,179.39" fill="#C3D8F7" opacity="0.8"/>
<polygon points="562.4,156.9 574.4,163.9 574.4,179.9 562.4,172.9" fill="#DDE9FB"/>
<polygon points="574.4,163.9 583,158.89 583,174.89 574.4,179.9" fill="#A9C6E9"/>
<polygon points="571,151.89 583,158.89 574.4,163.9 562.4,156.9" fill="#FFFFFF"/>
<polygon points="562.4,165 574.4,172 574.4,174.3 562.4,167.3" fill="#2F6FED"/>
<polygon points="574.4,172 583,166.99 583,169.29 574.4,174.3" fill="#1C5DE2"/>
<path d="M563.7 161.46L567.7 163.79" stroke="#1C5DE2" stroke-width="1.4" fill="none"/>
<path d="M563.7 170.66L567.7 172.99" stroke="#1C5DE2" stroke-width="1.4" fill="none"/>
<g fill="#141414" transform="matrix(0.87 0.5 0 1 536.98 76.13)" aria-label="报送相关信息配置"><text x="0" y="13.19" font-size="13">报送相关</text><text x="0" y="29.69" font-size="13">信息配置</text></g>
<g fill="#141414" transform="matrix(0.87 0.5 0 1 445.63 123.71)" aria-label="审核流程管理"><text x="0" y="13.19" font-size="13">审核流程管理</text></g>
<g fill="#141414" transform="matrix(0.87 0.5 0 1 597.13 118.81)" aria-label="汇总关系配置"><text x="0" y="13.19" font-size="13">汇总关系配置</text></g>
<g fill="#141414" transform="matrix(0.87 0.5 0 1 518.33 170.31)" aria-label="报表关系配置"><text x="0" y="13.19" font-size="13">报表关系配置</text></g>
<path d="M130.2 312.72L314.2 205.44A19.8 11.54 0 0 1 342.2 205.44L516.6 307.12A19.8 11.54 0 0 1 516.6 323.44L332.6 430.71A19.8 11.54 0 0 1 304.6 430.71L130.2 329.04A19.8 11.54 0 0 1 130.2 312.72Z" fill="url(#g12)"/>
<path d="M129 297.08L311.4 190.74A19.8 11.54 0 0 1 339.4 190.74L517.8 294.75A19.8 11.54 0 0 1 517.8 311.07L335.4 417.41A19.8 11.54 0 0 1 307.4 417.41L129 313.41A19.8 11.54 0 0 1 129 297.08Z" fill="#DEEAFC"/>
<path d="M129 292.08L311.4 185.74A19.8 11.54 0 0 1 339.4 185.74L517.8 289.75A19.8 11.54 0 0 1 517.8 306.07L335.4 412.41A19.8 11.54 0 0 1 307.4 412.41L129 308.41A19.8 11.54 0 0 1 129 292.08Z" fill="url(#g13)"/>
<path d="M144 293.83L314.6 194.37A18.38 10.72 0 0 1 340.6 194.37L502 288.47A18.38 10.72 0 0 1 502 303.63L331.4 403.09A18.38 10.72 0 0 1 305.4 403.09L144 308.99A18.38 10.72 0 0 1 144 293.83Z" fill="none" stroke="#D2E2FB" stroke-width="0.9"/>
<polygon points="174.2,333.83 197.2,320.42 294.2,376.97 271.2,390.38" fill="#0E5BE8"/>
<g fill="#fff" transform="matrix(0.87 0.5 -0.87 0.5 203.53 336.7)" aria-label="一站报表配置"><text x="0" y="4.94" font-size="13">一站报表配置</text></g>
<path d="M304.3 245.69L326.3 232.86A7.07 4.12 0 0 1 336.3 232.86L358.3 245.69A7.07 4.12 0 0 1 358.3 251.51L336.3 264.34A7.07 4.12 0 0 1 326.3 264.34L304.3 251.51A7.07 4.12 0 0 1 304.3 245.69Z" fill="url(#g14)"/>
<path d="M305.3 239.19L326.3 226.94A7.07 4.12 0 0 1 336.3 226.94L357.3 239.19A7.07 4.12 0 0 1 357.3 245.01L336.3 257.26A7.07 4.12 0 0 1 326.3 257.26L305.3 245.01A7.07 4.12 0 0 1 305.3 239.19Z" fill="#E4EDFC"/>
<path d="M305.3 237.69L326.3 225.44A7.07 4.12 0 0 1 336.3 225.44L357.3 237.69A7.07 4.12 0 0 1 357.3 243.51L336.3 255.76A7.07 4.12 0 0 1 326.3 255.76L305.3 243.51A7.07 4.12 0 0 1 305.3 237.69Z" fill="url(#g15)"/>
<polygon points="331,247.3 319.5,240.6 331,233.89 342.5,240.6" fill="#CADCF8" opacity="0.85"/>
<polygon points="320.2,219.35 325.6,222.5 325.6,242.3 320.2,239.15" fill="#E7EFFC"/>
<polygon points="325.6,222.5 330.6,219.58 330.6,239.38 325.6,242.3" fill="#ABC7E6"/>
<polygon points="325.2,216.44 330.6,219.58 325.6,222.5 320.2,219.35" fill="#FFFFFF"/>
<polygon points="331,225.71 336.3,228.8 336.3,239.9 331,236.81" fill="#0F5CE6"/>
<polygon points="336.3,228.8 341.4,225.83 341.4,236.93 336.3,239.9" fill="#0A4DCE"/>
<polygon points="336.1,222.74 341.4,225.83 336.3,228.8 331,225.71" fill="#3F7FF0"/>
<polygon points="325.6,233.28 330.6,236.2 330.6,243.6 325.6,240.69" fill="#0F5CE6"/>
<polygon points="330.6,236.2 335.3,233.46 335.3,240.86 330.6,243.6" fill="#0A4DCE"/>
<polygon points="330.3,230.54 335.3,233.46 330.6,236.2 325.6,233.28" fill="#3F7FF0"/>
<path d="M229.5 297.09L251.5 284.26A7.07 4.12 0 0 1 261.5 284.26L283.5 297.09A7.07 4.12 0 0 1 283.5 302.92L261.5 315.74A7.07 4.12 0 0 1 251.5 315.74L229.5 302.92A7.07 4.12 0 0 1 229.5 297.09Z" fill="url(#g16)"/>
<path d="M230.5 290.59L251.5 278.34A7.07 4.12 0 0 1 261.5 278.34L282.5 290.59A7.07 4.12 0 0 1 282.5 296.42L261.5 308.66A7.07 4.12 0 0 1 251.5 308.66L230.5 296.42A7.07 4.12 0 0 1 230.5 290.59Z" fill="#E4EDFC"/>
<path d="M230.5 289.09L251.5 276.84A7.07 4.12 0 0 1 261.5 276.84L282.5 289.09A7.07 4.12 0 0 1 282.5 294.92L261.5 307.16A7.07 4.12 0 0 1 251.5 307.16L230.5 294.92A7.07 4.12 0 0 1 230.5 289.09Z" fill="url(#g17)"/>
<polygon points="256.2,298.7 244.7,292 256.2,285.29 267.7,292" fill="#CADCF8" opacity="0.85"/>
<polygon points="245.4,270.75 250.8,273.9 250.8,293.7 245.4,290.55" fill="#E7EFFC"/>
<polygon points="250.8,273.9 255.8,270.98 255.8,290.78 250.8,293.7" fill="#ABC7E6"/>
<polygon points="250.4,267.84 255.8,270.98 250.8,273.9 245.4,270.75" fill="#FFFFFF"/>
<polygon points="256.2,277.11 261.5,280.2 261.5,291.3 256.2,288.21" fill="#0F5CE6"/>
<polygon points="261.5,280.2 266.6,277.23 266.6,288.33 261.5,291.3" fill="#0A4DCE"/>
<polygon points="261.3,274.14 266.6,277.23 261.5,280.2 256.2,277.11" fill="#3F7FF0"/>
<polygon points="250.8,284.69 255.8,287.6 255.8,295 250.8,292.08" fill="#0F5CE6"/>
<polygon points="255.8,287.6 260.5,284.86 260.5,292.26 255.8,295" fill="#0A4DCE"/>
<polygon points="255.5,281.94 260.5,284.86 255.8,287.6 250.8,284.69" fill="#3F7FF0"/>
<path d="M381.6 289.19L403.6 276.36A7.07 4.12 0 0 1 413.6 276.36L435.6 289.19A7.07 4.12 0 0 1 435.6 295.02L413.6 307.84A7.07 4.12 0 0 1 403.6 307.84L381.6 295.02A7.07 4.12 0 0 1 381.6 289.19Z" fill="url(#g18)"/>
<path d="M382.6 282.69L403.6 270.44A7.07 4.12 0 0 1 413.6 270.44L434.6 282.69A7.07 4.12 0 0 1 434.6 288.52L413.6 300.76A7.07 4.12 0 0 1 403.6 300.76L382.6 288.52A7.07 4.12 0 0 1 382.6 282.69Z" fill="#E4EDFC"/>
<path d="M382.6 281.19L403.6 268.94A7.07 4.12 0 0 1 413.6 268.94L434.6 281.19A7.07 4.12 0 0 1 434.6 287.02L413.6 299.26A7.07 4.12 0 0 1 403.6 299.26L382.6 287.02A7.07 4.12 0 0 1 382.6 281.19Z" fill="url(#g19)"/>
<polygon points="408.3,290.8 396.8,284.1 408.3,277.39 419.8,284.1" fill="#CADCF8" opacity="0.85"/>
<polygon points="397.5,262.85 402.9,266 402.9,285.8 397.5,282.65" fill="#E7EFFC"/>
<polygon points="402.9,266 407.9,263.08 407.9,282.88 402.9,285.8" fill="#ABC7E6"/>
<polygon points="402.5,259.94 407.9,263.08 402.9,266 397.5,262.85" fill="#FFFFFF"/>
<polygon points="408.3,269.21 413.6,272.3 413.6,283.4 408.3,280.31" fill="#0F5CE6"/>
<polygon points="413.6,272.3 418.7,269.33 418.7,280.43 413.6,283.4" fill="#0A4DCE"/>
<polygon points="413.4,266.24 418.7,269.33 413.6,272.3 408.3,269.21" fill="#3F7FF0"/>
<polygon points="402.9,276.79 407.9,279.7 407.9,287.1 402.9,284.19" fill="#0F5CE6"/>
<polygon points="407.9,279.7 412.6,276.96 412.6,284.36 407.9,287.1" fill="#0A4DCE"/>
<polygon points="407.6,274.04 412.6,276.96 407.9,279.7 402.9,276.79" fill="#3F7FF0"/>
<path d="M293.5 338.29L315.5 325.46A7.07 4.12 0 0 1 325.5 325.46L347.5 338.29A7.07 4.12 0 0 1 347.5 344.12L325.5 356.94A7.07 4.12 0 0 1 315.5 356.94L293.5 344.12A7.07 4.12 0 0 1 293.5 338.29Z" fill="url(#g20)"/>
<path d="M294.5 331.79L315.5 319.54A7.07 4.12 0 0 1 325.5 319.54L346.5 331.79A7.07 4.12 0 0 1 346.5 337.62L325.5 349.86A7.07 4.12 0 0 1 315.5 349.86L294.5 337.62A7.07 4.12 0 0 1 294.5 331.79Z" fill="#E4EDFC"/>
<path d="M294.5 330.29L315.5 318.04A7.07 4.12 0 0 1 325.5 318.04L346.5 330.29A7.07 4.12 0 0 1 346.5 336.12L325.5 348.36A7.07 4.12 0 0 1 315.5 348.36L294.5 336.12A7.07 4.12 0 0 1 294.5 330.29Z" fill="url(#g21)"/>
<polygon points="320.2,339.9 308.7,333.2 320.2,326.49 331.7,333.2" fill="#CADCF8" opacity="0.85"/>
<polygon points="309.4,311.95 314.8,315.1 314.8,334.9 309.4,331.75" fill="#E7EFFC"/>
<polygon points="314.8,315.1 319.8,312.18 319.8,331.98 314.8,334.9" fill="#ABC7E6"/>
<polygon points="314.4,309.04 319.8,312.18 314.8,315.1 309.4,311.95" fill="#FFFFFF"/>
<polygon points="320.2,318.31 325.5,321.4 325.5,332.5 320.2,329.41" fill="#0F5CE6"/>
<polygon points="325.5,321.4 330.6,318.43 330.6,329.53 325.5,332.5" fill="#0A4DCE"/>
<polygon points="325.3,315.34 330.6,318.43 325.5,321.4 320.2,318.31" fill="#3F7FF0"/>
<polygon points="314.8,325.88 319.8,328.8 319.8,336.2 314.8,333.28" fill="#0F5CE6"/>
<polygon points="319.8,328.8 324.5,326.06 324.5,333.46 319.8,336.2" fill="#0A4DCE"/>
<polygon points="319.5,323.14 324.5,326.06 319.8,328.8 314.8,325.88" fill="#3F7FF0"/>
<g fill="#141414" transform="matrix(0.87 0.5 0 1 284.98 229.57)" aria-label="报送相关信息配置"><text x="0" y="13.19" font-size="13">报送相关</text><text x="0" y="29.69" font-size="13">信息配置</text></g>
<g fill="#141414" transform="matrix(0.87 0.5 0 1 193.63 277.16)" aria-label="审核流程管理"><text x="0" y="13.19" font-size="13">审核流程管理</text></g>
<g fill="#141414" transform="matrix(0.87 0.5 0 1 345.13 272.26)" aria-label="汇总关系配置"><text x="0" y="13.19" font-size="13">汇总关系配置</text></g>
<g fill="#141414" transform="matrix(0.87 0.5 0 1 266.33 323.76)" aria-label="报表关系配置"><text x="0" y="13.19" font-size="13">报表关系配置</text></g>
<path d="M566.7 323.85L799.25 188.27A19.8 11.54 0 0 1 827.25 188.27L1085.25 338.69A19.8 11.54 0 0 1 1085.25 355.01L852.7 490.59A19.8 11.54 0 0 1 824.7 490.59L566.7 340.17A19.8 11.54 0 0 1 566.7 323.85Z" fill="url(#g22)"/>
<path d="M565.5 308.22L796.45 173.57A19.8 11.54 0 0 1 824.45 173.57L1086.45 326.32A19.8 11.54 0 0 1 1086.45 342.64L855.5 477.29A19.8 11.54 0 0 1 827.5 477.29L565.5 324.54A19.8 11.54 0 0 1 565.5 308.22Z" fill="#DEEAFC"/>
<path d="M565.5 303.22L796.45 168.57A19.8 11.54 0 0 1 824.45 168.57L1086.45 321.32A19.8 11.54 0 0 1 1086.45 337.64L855.5 472.29A19.8 11.54 0 0 1 827.5 472.29L565.5 319.54A19.8 11.54 0 0 1 565.5 303.22Z" fill="url(#g23)"/>
<path d="M580.5 304.97L799.65 177.2A18.38 10.72 0 0 1 825.65 177.2L1070.65 320.04A18.38 10.72 0 0 1 1070.65 335.2L851.5 462.96A18.38 10.72 0 0 1 825.5 462.96L580.5 320.13A18.38 10.72 0 0 1 580.5 304.97Z" fill="none" stroke="#D2E2FB" stroke-width="0.9"/>
<polygon points="655.6,370.32 678.6,356.91 775.6,413.46 752.6,426.87" fill="#0E5BE8"/>
<g fill="#fff" transform="matrix(0.87 0.5 -0.87 0.5 683.33 373.19)" aria-label="一站式工作台"><text x="0" y="4.94" font-size="13">一站式工作台</text></g>
<path d="M797.8 218.78L819.8 205.96A7.07 4.12 0 0 1 829.8 205.96L851.8 218.78A7.07 4.12 0 0 1 851.8 224.61L829.8 237.44A7.07 4.12 0 0 1 819.8 237.44L797.8 224.61A7.07 4.12 0 0 1 797.8 218.78Z" fill="url(#g24)"/>
<path d="M798.8 212.28L819.8 200.04A7.07 4.12 0 0 1 829.8 200.04L850.8 212.28A7.07 4.12 0 0 1 850.8 218.11L829.8 230.36A7.07 4.12 0 0 1 819.8 230.36L798.8 218.11A7.07 4.12 0 0 1 798.8 212.28Z" fill="#E4EDFC"/>
<path d="M798.8 210.78L819.8 198.54A7.07 4.12 0 0 1 829.8 198.54L850.8 210.78A7.07 4.12 0 0 1 850.8 216.61L829.8 228.86A7.07 4.12 0 0 1 819.8 228.86L798.8 216.61A7.07 4.12 0 0 1 798.8 210.78Z" fill="url(#g25)"/>
<polygon points="824.8,220.1 811.8,212.52 824.3,205.23 837.3,212.81" fill="#C5D9F8" opacity="0.9"/>
<polygon points="812.2,195.65 824.8,203 824.8,216.1 812.2,208.75" fill="#0A36AA"/>
<polygon points="824.8,203 835.9,196.53 835.9,209.63 824.8,216.1" fill="#09329F"/>
<polygon points="823.3,189.18 835.9,196.53 824.8,203 812.2,195.65" fill="#0A36AA"/>
<polygon points="820.6,190.06 833.2,197.4 833.2,211.2 820.6,203.86" fill="#0F5EEA"/>
<polygon points="833.2,197.4 835.9,195.83 835.9,209.63 833.2,211.2" fill="#0C4CD2"/>
<polygon points="823.3,188.48 835.9,195.83 833.2,197.4 820.6,190.06" fill="#3C7EF3"/>
<polygon points="816.4,192.51 829,199.85 829,213.65 816.4,206.31" fill="#0F5EEA"/>
<polygon points="829,199.85 831.7,198.28 831.7,212.08 829,213.65" fill="#0C4CD2"/>
<polygon points="819.1,190.93 831.7,198.28 829,199.85 816.4,192.51" fill="#3C7EF3"/>
<polygon points="812.2,194.95 824.8,202.3 824.8,216.1 812.2,208.75" fill="#0F5EEA"/>
<polygon points="824.8,202.3 827.5,200.73 827.5,214.53 824.8,216.1" fill="#0C4CD2"/>
<polygon points="814.9,193.38 827.5,200.73 824.8,202.3 812.2,194.95" fill="#3C7EF3"/>
<g transform="matrix(1.06 0.62 0 1.22 818.5 205.53)" fill="none" stroke="#fff" stroke-width="1.2">
<path d="M-3.2 -0.3h1.7a1.5 1.5 0 0 0 3 0h1.7v3h-6.4z" fill="#fff" stroke="none"/><path d="M-1.7 -1.6a1.7 1.7 0 0 1 3.4 0" stroke-width="1"/>
</g>
<path d="M855.7 254.69L877.7 241.86A7.07 4.12 0 0 1 887.7 241.86L909.7 254.69A7.07 4.12 0 0 1 909.7 260.51L887.7 273.34A7.07 4.12 0 0 1 877.7 273.34L855.7 260.51A7.07 4.12 0 0 1 855.7 254.69Z" fill="url(#g26)"/>
<path d="M856.7 248.19L877.7 235.94A7.07 4.12 0 0 1 887.7 235.94L908.7 248.19A7.07 4.12 0 0 1 908.7 254.02L887.7 266.26A7.07 4.12 0 0 1 877.7 266.26L856.7 254.02A7.07 4.12 0 0 1 856.7 248.19Z" fill="#E4EDFC"/>
<path d="M856.7 246.69L877.7 234.44A7.07 4.12 0 0 1 887.7 234.44L908.7 246.69A7.07 4.12 0 0 1 908.7 252.52L887.7 264.76A7.07 4.12 0 0 1 877.7 264.76L856.7 252.52A7.07 4.12 0 0 1 856.7 246.69Z" fill="url(#g27)"/>
<polygon points="882.7,256 869.7,248.42 882.2,241.13 895.2,248.71" fill="#C5D9F8" opacity="0.9"/>
<polygon points="870.1,231.55 882.7,238.9 882.7,252 870.1,244.65" fill="#0A36AA"/>
<polygon points="882.7,238.9 893.8,232.43 893.8,245.53 882.7,252" fill="#09329F"/>
<polygon points="881.2,225.08 893.8,232.43 882.7,238.9 870.1,231.55" fill="#0A36AA"/>
<polygon points="878.5,225.96 891.1,233.3 891.1,247.1 878.5,239.76" fill="#0F5EEA"/>
<polygon points="891.1,233.3 893.8,231.73 893.8,245.53 891.1,247.1" fill="#0C4CD2"/>
<polygon points="881.2,224.38 893.8,231.73 891.1,233.3 878.5,225.96" fill="#3C7EF3"/>
<polygon points="874.3,228.41 886.9,235.75 886.9,249.55 874.3,242.21" fill="#0F5EEA"/>
<polygon points="886.9,235.75 889.6,234.18 889.6,247.98 886.9,249.55" fill="#0C4CD2"/>
<polygon points="877,226.83 889.6,234.18 886.9,235.75 874.3,228.41" fill="#3C7EF3"/>
<polygon points="870.1,230.85 882.7,238.2 882.7,252 870.1,244.65" fill="#0F5EEA"/>
<polygon points="882.7,238.2 885.4,236.63 885.4,250.43 882.7,252" fill="#0C4CD2"/>
<polygon points="872.8,229.28 885.4,236.63 882.7,238.2 870.1,230.85" fill="#3C7EF3"/>
<g transform="matrix(1.06 0.62 0 1.22 876.4 241.43)" fill="none" stroke="#fff" stroke-width="1.2">
<rect x="-3.2" y="-3.2" width="6.4" height="6.4" rx="1.2" stroke-width="1.1"/><rect x="-2" y="-1.8" width="1.4" height="3.6" fill="#fff" stroke="none"/><rect x="0.6" y="-1.8" width="1.4" height="3.6" fill="#fff" stroke="none"/>
</g>
<path d="M911 286.38L933 273.56A7.07 4.12 0 0 1 943 273.56L965 286.38A7.07 4.12 0 0 1 965 292.21L943 305.04A7.07 4.12 0 0 1 933 305.04L911 292.21A7.07 4.12 0 0 1 911 286.38Z" fill="url(#g28)"/>
<path d="M912 279.88L933 267.64A7.07 4.12 0 0 1 943 267.64L964 279.88A7.07 4.12 0 0 1 964 285.71L943 297.96A7.07 4.12 0 0 1 933 297.96L912 285.71A7.07 4.12 0 0 1 912 279.88Z" fill="#E4EDFC"/>
<path d="M912 278.38L933 266.14A7.07 4.12 0 0 1 943 266.14L964 278.38A7.07 4.12 0 0 1 964 284.21L943 296.46A7.07 4.12 0 0 1 933 296.46L912 284.21A7.07 4.12 0 0 1 912 278.38Z" fill="url(#g29)"/>
<polygon points="938,287.7 925,280.12 937.5,272.83 950.5,280.41" fill="#C5D9F8" opacity="0.9"/>
<polygon points="925.4,263.25 938,270.6 938,283.7 925.4,276.35" fill="#0A36AA"/>
<polygon points="938,270.6 949.1,264.13 949.1,277.23 938,283.7" fill="#09329F"/>
<polygon points="936.5,256.78 949.1,264.13 938,270.6 925.4,263.25" fill="#0A36AA"/>
<polygon points="933.8,257.66 946.4,265 946.4,278.8 933.8,271.46" fill="#0F5EEA"/>
<polygon points="946.4,265 949.1,263.43 949.1,277.23 946.4,278.8" fill="#0C4CD2"/>
<polygon points="936.5,256.08 949.1,263.43 946.4,265 933.8,257.66" fill="#3C7EF3"/>
<polygon points="929.6,260.11 942.2,267.45 942.2,281.25 929.6,273.91" fill="#0F5EEA"/>
<polygon points="942.2,267.45 944.9,265.88 944.9,279.68 942.2,281.25" fill="#0C4CD2"/>
<polygon points="932.3,258.53 944.9,265.88 942.2,267.45 929.6,260.11" fill="#3C7EF3"/>
<polygon points="925.4,262.55 938,269.9 938,283.7 925.4,276.35" fill="#0F5EEA"/>
<polygon points="938,269.9 940.7,268.33 940.7,282.13 938,283.7" fill="#0C4CD2"/>
<polygon points="928.1,260.98 940.7,268.33 938,269.9 925.4,262.55" fill="#3C7EF3"/>
<g transform="matrix(1.06 0.62 0 1.22 931.7 273.13)" fill="none" stroke="#fff" stroke-width="1.2">
<path d="M-3 3L-0.6 -3.2L1.8 3M-2.2 1.2h3.2" stroke-width="1.2"/><circle cx="3" cy="2.4" r="1" fill="#fff" stroke="none"/>
</g>
<path d="M971 319.53L993 306.71A7.07 4.12 0 0 1 1003 306.71L1025 319.53A7.07 4.12 0 0 1 1025 325.37L1003 338.19A7.07 4.12 0 0 1 993 338.19L971 325.37A7.07 4.12 0 0 1 971 319.53Z" fill="url(#g30)"/>
<path d="M972 313.03L993 300.79A7.07 4.12 0 0 1 1003 300.79L1024 313.03A7.07 4.12 0 0 1 1024 318.87L1003 331.11A7.07 4.12 0 0 1 993 331.11L972 318.87A7.07 4.12 0 0 1 972 313.03Z" fill="#E4EDFC"/>
<path d="M972 311.53L993 299.29A7.07 4.12 0 0 1 1003 299.29L1024 311.53A7.07 4.12 0 0 1 1024 317.37L1003 329.61A7.07 4.12 0 0 1 993 329.61L972 317.37A7.07 4.12 0 0 1 972 311.53Z" fill="url(#g31)"/>
<polygon points="998,320.85 985,313.27 997.5,305.98 1010.5,313.56" fill="#C5D9F8" opacity="0.9"/>
<polygon points="985.4,296.4 998,303.75 998,316.85 985.4,309.5" fill="#0A36AA"/>
<polygon points="998,303.75 1009.1,297.28 1009.1,310.38 998,316.85" fill="#09329F"/>
<polygon points="996.5,289.93 1009.1,297.28 998,303.75 985.4,296.4" fill="#0A36AA"/>
<polygon points="993.8,290.81 1006.4,298.15 1006.4,311.95 993.8,304.61" fill="#0F5EEA"/>
<polygon points="1006.4,298.15 1009.1,296.58 1009.1,310.38 1006.4,311.95" fill="#0C4CD2"/>
<polygon points="996.5,289.23 1009.1,296.58 1006.4,298.15 993.8,290.81" fill="#3C7EF3"/>
<polygon points="989.6,293.26 1002.2,300.6 1002.2,314.4 989.6,307.06" fill="#0F5EEA"/>
<polygon points="1002.2,300.6 1004.9,299.03 1004.9,312.83 1002.2,314.4" fill="#0C4CD2"/>
<polygon points="992.3,291.68 1004.9,299.03 1002.2,300.6 989.6,293.26" fill="#3C7EF3"/>
<polygon points="985.4,295.7 998,303.05 998,316.85 985.4,309.5" fill="#0F5EEA"/>
<polygon points="998,303.05 1000.7,301.48 1000.7,315.28 998,316.85" fill="#0C4CD2"/>
<polygon points="988.1,294.13 1000.7,301.48 998,303.05 985.4,295.7" fill="#3C7EF3"/>
<g transform="matrix(1.06 0.62 0 1.22 991.7 306.28)" fill="none" stroke="#fff" stroke-width="1.2">
<rect x="-3.2" y="-3.2" width="6.4" height="6.4" rx="1.2" stroke-width="1.1"/><path d="M-1.6 -0.9h3.2M-1.6 0.9h1.8" stroke-width="0.9"/><circle cx="2.8" cy="2.8" r="1.2" fill="#fff" stroke="none"/>
</g>
<path d="M726.9 260.08L748.9 247.26A7.07 4.12 0 0 1 758.9 247.26L780.9 260.08A7.07 4.12 0 0 1 780.9 265.91L758.9 278.74A7.07 4.12 0 0 1 748.9 278.74L726.9 265.91A7.07 4.12 0 0 1 726.9 260.08Z" fill="url(#g32)"/>
<path d="M727.9 253.58L748.9 241.34A7.07 4.12 0 0 1 758.9 241.34L779.9 253.58A7.07 4.12 0 0 1 779.9 259.41L758.9 271.66A7.07 4.12 0 0 1 748.9 271.66L727.9 259.41A7.07 4.12 0 0 1 727.9 253.58Z" fill="#E4EDFC"/>
<path d="M727.9 252.08L748.9 239.84A7.07 4.12 0 0 1 758.9 239.84L779.9 252.08A7.07 4.12 0 0 1 779.9 257.91L758.9 270.16A7.07 4.12 0 0 1 748.9 270.16L727.9 257.91A7.07 4.12 0 0 1 727.9 252.08Z" fill="url(#g33)"/>
<polygon points="753.9,261.4 740.9,253.82 753.4,246.53 766.4,254.11" fill="#C5D9F8" opacity="0.9"/>
<polygon points="741.3,236.95 753.9,244.3 753.9,257.4 741.3,250.05" fill="#0A36AA"/>
<polygon points="753.9,244.3 765,237.83 765,250.93 753.9,257.4" fill="#09329F"/>
<polygon points="752.4,230.48 765,237.83 753.9,244.3 741.3,236.95" fill="#0A36AA"/>
<polygon points="749.7,231.36 762.3,238.7 762.3,252.5 749.7,245.16" fill="#0F5EEA"/>
<polygon points="762.3,238.7 765,237.13 765,250.93 762.3,252.5" fill="#0C4CD2"/>
<polygon points="752.4,229.78 765,237.13 762.3,238.7 749.7,231.36" fill="#3C7EF3"/>
<polygon points="745.5,233.81 758.1,241.15 758.1,254.95 745.5,247.61" fill="#0F5EEA"/>
<polygon points="758.1,241.15 760.8,239.58 760.8,253.38 758.1,254.95" fill="#0C4CD2"/>
<polygon points="748.2,232.23 760.8,239.58 758.1,241.15 745.5,233.81" fill="#3C7EF3"/>
<polygon points="741.3,236.25 753.9,243.6 753.9,257.4 741.3,250.05" fill="#0F5EEA"/>
<polygon points="753.9,243.6 756.6,242.03 756.6,255.83 753.9,257.4" fill="#0C4CD2"/>
<polygon points="744,234.68 756.6,242.03 753.9,243.6 741.3,236.25" fill="#3C7EF3"/>
<g transform="matrix(1.06 0.62 0 1.22 747.6 246.83)" fill="none" stroke="#fff" stroke-width="1.2">
<path d="M0.4 -3.2l2.4 2.2l-2.4 2.2l-2.4 -2.2z" fill="#fff" stroke="none"/><path d="M-3.2 2.8h6.4" stroke-width="1.3"/>
</g>
<path d="M785.25 293.19L807.25 280.36A7.07 4.12 0 0 1 817.25 280.36L839.25 293.19A7.07 4.12 0 0 1 839.25 299.02L817.25 311.84A7.07 4.12 0 0 1 807.25 311.84L785.25 299.02A7.07 4.12 0 0 1 785.25 293.19Z" fill="url(#g34)"/>
<path d="M786.25 286.69L807.25 274.44A7.07 4.12 0 0 1 817.25 274.44L838.25 286.69A7.07 4.12 0 0 1 838.25 292.52L817.25 304.76A7.07 4.12 0 0 1 807.25 304.76L786.25 292.52A7.07 4.12 0 0 1 786.25 286.69Z" fill="#E4EDFC"/>
<path d="M786.25 285.19L807.25 272.94A7.07 4.12 0 0 1 817.25 272.94L838.25 285.19A7.07 4.12 0 0 1 838.25 291.02L817.25 303.26A7.07 4.12 0 0 1 807.25 303.26L786.25 291.02A7.07 4.12 0 0 1 786.25 285.19Z" fill="url(#g35)"/>
<polygon points="812.25,294.5 799.25,286.92 811.75,279.63 824.75,287.21" fill="#C5D9F8" opacity="0.9"/>
<polygon points="799.65,270.05 812.25,277.4 812.25,290.5 799.65,283.15" fill="#0A36AA"/>
<polygon points="812.25,277.4 823.35,270.93 823.35,284.03 812.25,290.5" fill="#09329F"/>
<polygon points="810.75,263.58 823.35,270.93 812.25,277.4 799.65,270.05" fill="#0A36AA"/>
<polygon points="808.05,264.46 820.65,271.8 820.65,285.6 808.05,278.26" fill="#0F5EEA"/>
<polygon points="820.65,271.8 823.35,270.23 823.35,284.03 820.65,285.6" fill="#0C4CD2"/>
<polygon points="810.75,262.88 823.35,270.23 820.65,271.8 808.05,264.46" fill="#3C7EF3"/>
<polygon points="803.85,266.91 816.45,274.25 816.45,288.05 803.85,280.71" fill="#0F5EEA"/>
<polygon points="816.45,274.25 819.15,272.68 819.15,286.48 816.45,288.05" fill="#0C4CD2"/>
<polygon points="806.55,265.33 819.15,272.68 816.45,274.25 803.85,266.91" fill="#3C7EF3"/>
<polygon points="799.65,269.35 812.25,276.7 812.25,290.5 799.65,283.15" fill="#0F5EEA"/>
<polygon points="812.25,276.7 814.95,275.13 814.95,288.93 812.25,290.5" fill="#0C4CD2"/>
<polygon points="802.35,267.78 814.95,275.13 812.25,276.7 799.65,269.35" fill="#3C7EF3"/>
<g transform="matrix(1.06 0.62 0 1.22 805.95 279.93)" fill="none" stroke="#fff" stroke-width="1.2">
<circle r="3.1" stroke-width="1.1"/><path d="M-3 -0.6h6M-3 1h3.5M0.5 -3.1a4.5 4.5 0 0 1 0 6.2" stroke-width="0.9"/>
</g>
<path d="M841.7 325.44L863.7 312.61A7.07 4.12 0 0 1 873.7 312.61L895.7 325.44A7.07 4.12 0 0 1 895.7 331.26L873.7 344.09A7.07 4.12 0 0 1 863.7 344.09L841.7 331.26A7.07 4.12 0 0 1 841.7 325.44Z" fill="url(#g36)"/>
<path d="M842.7 318.94L863.7 306.69A7.07 4.12 0 0 1 873.7 306.69L894.7 318.94A7.07 4.12 0 0 1 894.7 324.76L873.7 337.01A7.07 4.12 0 0 1 863.7 337.01L842.7 324.76A7.07 4.12 0 0 1 842.7 318.94Z" fill="#E4EDFC"/>
<path d="M842.7 317.44L863.7 305.19A7.07 4.12 0 0 1 873.7 305.19L894.7 317.44A7.07 4.12 0 0 1 894.7 323.26L873.7 335.51A7.07 4.12 0 0 1 863.7 335.51L842.7 323.26A7.07 4.12 0 0 1 842.7 317.44Z" fill="url(#g37)"/>
<polygon points="868.7,326.75 855.7,319.17 868.2,311.88 881.2,319.46" fill="#C5D9F8" opacity="0.9"/>
<polygon points="856.1,302.3 868.7,309.65 868.7,322.75 856.1,315.4" fill="#0A36AA"/>
<polygon points="868.7,309.65 879.8,303.18 879.8,316.28 868.7,322.75" fill="#09329F"/>
<polygon points="867.2,295.83 879.8,303.18 868.7,309.65 856.1,302.3" fill="#0A36AA"/>
<polygon points="864.5,296.71 877.1,304.05 877.1,317.85 864.5,310.51" fill="#0F5EEA"/>
<polygon points="877.1,304.05 879.8,302.48 879.8,316.28 877.1,317.85" fill="#0C4CD2"/>
<polygon points="867.2,295.13 879.8,302.48 877.1,304.05 864.5,296.71" fill="#3C7EF3"/>
<polygon points="860.3,299.16 872.9,306.5 872.9,320.3 860.3,312.96" fill="#0F5EEA"/>
<polygon points="872.9,306.5 875.6,304.93 875.6,318.73 872.9,320.3" fill="#0C4CD2"/>
<polygon points="863,297.58 875.6,304.93 872.9,306.5 860.3,299.16" fill="#3C7EF3"/>
<polygon points="856.1,301.6 868.7,308.95 868.7,322.75 856.1,315.4" fill="#0F5EEA"/>
<polygon points="868.7,308.95 871.4,307.38 871.4,321.18 868.7,322.75" fill="#0C4CD2"/>
<polygon points="858.8,300.03 871.4,307.38 868.7,308.95 856.1,301.6" fill="#3C7EF3"/>
<g transform="matrix(1.06 0.62 0 1.22 862.4 312.18)" fill="none" stroke="#fff" stroke-width="1.2">
<path d="M-3.6 -0.4L3.6 -3.2L1.2 3.6L0 0.9L-0.6 3Z" fill="#fff" stroke="none"/>
</g>
<path d="M900 360.28L922 347.46A7.07 4.12 0 0 1 932 347.46L954 360.28A7.07 4.12 0 0 1 954 366.11L932 378.94A7.07 4.12 0 0 1 922 378.94L900 366.11A7.07 4.12 0 0 1 900 360.28Z" fill="url(#g38)"/>
<path d="M901 353.78L922 341.54A7.07 4.12 0 0 1 932 341.54L953 353.78A7.07 4.12 0 0 1 953 359.61L932 371.86A7.07 4.12 0 0 1 922 371.86L901 359.61A7.07 4.12 0 0 1 901 353.78Z" fill="#E4EDFC"/>
<path d="M901 352.28L922 340.04A7.07 4.12 0 0 1 932 340.04L953 352.28A7.07 4.12 0 0 1 953 358.11L932 370.36A7.07 4.12 0 0 1 922 370.36L901 358.11A7.07 4.12 0 0 1 901 352.28Z" fill="url(#g39)"/>
<polygon points="927,361.6 914,354.02 926.5,346.73 939.5,354.31" fill="#C5D9F8" opacity="0.9"/>
<polygon points="914.4,337.15 927,344.5 927,357.6 914.4,350.25" fill="#0A36AA"/>
<polygon points="927,344.5 938.1,338.03 938.1,351.13 927,357.6" fill="#09329F"/>
<polygon points="925.5,330.68 938.1,338.03 927,344.5 914.4,337.15" fill="#0A36AA"/>
<polygon points="922.8,331.56 935.4,338.9 935.4,352.7 922.8,345.36" fill="#0F5EEA"/>
<polygon points="935.4,338.9 938.1,337.33 938.1,351.13 935.4,352.7" fill="#0C4CD2"/>
<polygon points="925.5,329.98 938.1,337.33 935.4,338.9 922.8,331.56" fill="#3C7EF3"/>
<polygon points="918.6,334.01 931.2,341.35 931.2,355.15 918.6,347.81" fill="#0F5EEA"/>
<polygon points="931.2,341.35 933.9,339.78 933.9,353.58 931.2,355.15" fill="#0C4CD2"/>
<polygon points="921.3,332.43 933.9,339.78 931.2,341.35 918.6,334.01" fill="#3C7EF3"/>
<polygon points="914.4,336.45 927,343.8 927,357.6 914.4,350.25" fill="#0F5EEA"/>
<polygon points="927,343.8 929.7,342.23 929.7,356.03 927,357.6" fill="#0C4CD2"/>
<polygon points="917.1,334.88 929.7,342.23 927,343.8 914.4,336.45" fill="#3C7EF3"/>
<g transform="matrix(1.06 0.62 0 1.22 920.7 347.03)" fill="none" stroke="#fff" stroke-width="1.2">
<path d="M-1.8 -2.2a2.9 2.9 0 1 1 -1 2.6M-3.4 -2.6l1.4 0.2l-0.2 1.6" stroke-width="1.1"/>
</g>
<path d="M656.6 303.54L678.6 290.71A7.07 4.12 0 0 1 688.6 290.71L710.6 303.54A7.07 4.12 0 0 1 710.6 309.37L688.6 322.19A7.07 4.12 0 0 1 678.6 322.19L656.6 309.37A7.07 4.12 0 0 1 656.6 303.54Z" fill="url(#g40)"/>
<path d="M657.6 297.04L678.6 284.79A7.07 4.12 0 0 1 688.6 284.79L709.6 297.04A7.07 4.12 0 0 1 709.6 302.87L688.6 315.11A7.07 4.12 0 0 1 678.6 315.11L657.6 302.87A7.07 4.12 0 0 1 657.6 297.04Z" fill="#E4EDFC"/>
<path d="M657.6 295.54L678.6 283.29A7.07 4.12 0 0 1 688.6 283.29L709.6 295.54A7.07 4.12 0 0 1 709.6 301.37L688.6 313.61A7.07 4.12 0 0 1 678.6 313.61L657.6 301.37A7.07 4.12 0 0 1 657.6 295.54Z" fill="url(#g41)"/>
<polygon points="683.6,304.85 670.6,297.27 683.1,289.98 696.1,297.56" fill="#C5D9F8" opacity="0.9"/>
<polygon points="671,280.4 683.6,287.75 683.6,300.85 671,293.5" fill="#0A36AA"/>
<polygon points="683.6,287.75 694.7,281.28 694.7,294.38 683.6,300.85" fill="#09329F"/>
<polygon points="682.1,273.93 694.7,281.28 683.6,287.75 671,280.4" fill="#0A36AA"/>
<polygon points="679.4,274.81 692,282.15 692,295.95 679.4,288.61" fill="#0F5EEA"/>
<polygon points="692,282.15 694.7,280.58 694.7,294.38 692,295.95" fill="#0C4CD2"/>
<polygon points="682.1,273.23 694.7,280.58 692,282.15 679.4,274.81" fill="#3C7EF3"/>
<polygon points="675.2,277.26 687.8,284.6 687.8,298.4 675.2,291.06" fill="#0F5EEA"/>
<polygon points="687.8,284.6 690.5,283.03 690.5,296.83 687.8,298.4" fill="#0C4CD2"/>
<polygon points="677.9,275.68 690.5,283.03 687.8,284.6 675.2,277.26" fill="#3C7EF3"/>
<polygon points="671,279.7 683.6,287.05 683.6,300.85 671,293.5" fill="#0F5EEA"/>
<polygon points="683.6,287.05 686.3,285.48 686.3,299.28 683.6,300.85" fill="#0C4CD2"/>
<polygon points="673.7,278.13 686.3,285.48 683.6,287.05 671,279.7" fill="#3C7EF3"/>
<g transform="matrix(1.06 0.62 0 1.22 677.3 290.28)" fill="none" stroke="#fff" stroke-width="1.2">
<path d="M1.2 -3h-3.4a1 1 0 0 0 -1 1v4a1 1 0 0 0 1 1h4.4a1 1 0 0 0 1 -1v-2" stroke-width="1.1"/><path d="M-0.6 0.8a2.6 2.6 0 0 1 2.6 -2.8h1M1.6 -3.4l1.6 1.4l-1.6 1.4" stroke-width="1"/>
</g>
<path d="M711.6 336.88L733.6 324.06A7.07 4.12 0 0 1 743.6 324.06L765.6 336.88A7.07 4.12 0 0 1 765.6 342.72L743.6 355.54A7.07 4.12 0 0 1 733.6 355.54L711.6 342.72A7.07 4.12 0 0 1 711.6 336.88Z" fill="url(#g42)"/>
<path d="M712.6 330.38L733.6 318.14A7.07 4.12 0 0 1 743.6 318.14L764.6 330.38A7.07 4.12 0 0 1 764.6 336.22L743.6 348.46A7.07 4.12 0 0 1 733.6 348.46L712.6 336.22A7.07 4.12 0 0 1 712.6 330.38Z" fill="#E4EDFC"/>
<path d="M712.6 328.88L733.6 316.64A7.07 4.12 0 0 1 743.6 316.64L764.6 328.88A7.07 4.12 0 0 1 764.6 334.72L743.6 346.96A7.07 4.12 0 0 1 733.6 346.96L712.6 334.72A7.07 4.12 0 0 1 712.6 328.88Z" fill="url(#g43)"/>
<polygon points="738.6,338.2 725.6,330.62 738.1,323.33 751.1,330.91" fill="#C5D9F8" opacity="0.9"/>
<polygon points="726,313.75 738.6,321.1 738.6,334.2 726,326.85" fill="#0A36AA"/>
<polygon points="738.6,321.1 749.7,314.63 749.7,327.73 738.6,334.2" fill="#09329F"/>
<polygon points="737.1,307.28 749.7,314.63 738.6,321.1 726,313.75" fill="#0A36AA"/>
<polygon points="734.4,308.16 747,315.5 747,329.3 734.4,321.96" fill="#0F5EEA"/>
<polygon points="747,315.5 749.7,313.93 749.7,327.73 747,329.3" fill="#0C4CD2"/>
<polygon points="737.1,306.58 749.7,313.93 747,315.5 734.4,308.16" fill="#3C7EF3"/>
<polygon points="730.2,310.61 742.8,317.95 742.8,331.75 730.2,324.41" fill="#0F5EEA"/>
<polygon points="742.8,317.95 745.5,316.38 745.5,330.18 742.8,331.75" fill="#0C4CD2"/>
<polygon points="732.9,309.03 745.5,316.38 742.8,317.95 730.2,310.61" fill="#3C7EF3"/>
<polygon points="726,313.05 738.6,320.4 738.6,334.2 726,326.85" fill="#0F5EEA"/>
<polygon points="738.6,320.4 741.3,318.83 741.3,332.63 738.6,334.2" fill="#0C4CD2"/>
<polygon points="728.7,311.48 741.3,318.83 738.6,320.4 726,313.05" fill="#3C7EF3"/>
<g transform="matrix(1.06 0.62 0 1.22 732.3 323.63)" fill="none" stroke="#fff" stroke-width="1.2">
<rect x="-3.2" y="-3.2" width="6.4" height="6.4" rx="1.2" stroke-width="1.1"/><path d="M-1.6 -1h3.2l-1 -1M1.6 1h-3.2l1 1" stroke-width="0.9"/>
</g>
<path d="M772.5 370.08L794.5 357.26A7.07 4.12 0 0 1 804.5 357.26L826.5 370.08A7.07 4.12 0 0 1 826.5 375.91L804.5 388.74A7.07 4.12 0 0 1 794.5 388.74L772.5 375.91A7.07 4.12 0 0 1 772.5 370.08Z" fill="url(#g44)"/>
<path d="M773.5 363.58L794.5 351.34A7.07 4.12 0 0 1 804.5 351.34L825.5 363.58A7.07 4.12 0 0 1 825.5 369.41L804.5 381.66A7.07 4.12 0 0 1 794.5 381.66L773.5 369.41A7.07 4.12 0 0 1 773.5 363.58Z" fill="#E4EDFC"/>
<path d="M773.5 362.08L794.5 349.84A7.07 4.12 0 0 1 804.5 349.84L825.5 362.08A7.07 4.12 0 0 1 825.5 367.91L804.5 380.16A7.07 4.12 0 0 1 794.5 380.16L773.5 367.91A7.07 4.12 0 0 1 773.5 362.08Z" fill="url(#g45)"/>
<polygon points="799.5,371.4 786.5,363.82 799,356.53 812,364.11" fill="#C5D9F8" opacity="0.9"/>
<polygon points="786.9,346.95 799.5,354.3 799.5,367.4 786.9,360.05" fill="#0A36AA"/>
<polygon points="799.5,354.3 810.6,347.83 810.6,360.93 799.5,367.4" fill="#09329F"/>
<polygon points="798,340.48 810.6,347.83 799.5,354.3 786.9,346.95" fill="#0A36AA"/>
<polygon points="795.3,341.36 807.9,348.7 807.9,362.5 795.3,355.16" fill="#0F5EEA"/>
<polygon points="807.9,348.7 810.6,347.13 810.6,360.93 807.9,362.5" fill="#0C4CD2"/>
<polygon points="798,339.78 810.6,347.13 807.9,348.7 795.3,341.36" fill="#3C7EF3"/>
<polygon points="791.1,343.81 803.7,351.15 803.7,364.95 791.1,357.61" fill="#0F5EEA"/>
<polygon points="803.7,351.15 806.4,349.58 806.4,363.38 803.7,364.95" fill="#0C4CD2"/>
<polygon points="793.8,342.23 806.4,349.58 803.7,351.15 791.1,343.81" fill="#3C7EF3"/>
<polygon points="786.9,346.25 799.5,353.6 799.5,367.4 786.9,360.05" fill="#0F5EEA"/>
<polygon points="799.5,353.6 802.2,352.03 802.2,365.83 799.5,367.4" fill="#0C4CD2"/>
<polygon points="789.6,344.68 802.2,352.03 799.5,353.6 786.9,346.25" fill="#3C7EF3"/>
<g transform="matrix(1.06 0.62 0 1.22 793.2 356.83)" fill="none" stroke="#fff" stroke-width="1.2">
<rect x="-3.2" y="-2.8" width="6.4" height="5.6" rx="1" stroke-width="1.1"/><path d="M-1.8 -1h2M-1.8 0.8h3.6" stroke-width="0.9"/><rect x="0.6" y="-1.6" width="1.6" height="1.4" fill="#fff" stroke="none"/>
</g>
<path d="M828.9 402.49L850.9 389.66A7.07 4.12 0 0 1 860.9 389.66L882.9 402.49A7.07 4.12 0 0 1 882.9 408.32L860.9 421.14A7.07 4.12 0 0 1 850.9 421.14L828.9 408.32A7.07 4.12 0 0 1 828.9 402.49Z" fill="url(#g46)"/>
<path d="M829.9 395.99L850.9 383.74A7.07 4.12 0 0 1 860.9 383.74L881.9 395.99A7.07 4.12 0 0 1 881.9 401.82L860.9 414.06A7.07 4.12 0 0 1 850.9 414.06L829.9 401.82A7.07 4.12 0 0 1 829.9 395.99Z" fill="#E4EDFC"/>
<path d="M829.9 394.49L850.9 382.24A7.07 4.12 0 0 1 860.9 382.24L881.9 394.49A7.07 4.12 0 0 1 881.9 400.32L860.9 412.56A7.07 4.12 0 0 1 850.9 412.56L829.9 400.32A7.07 4.12 0 0 1 829.9 394.49Z" fill="url(#g47)"/>
<polygon points="855.9,403.8 842.9,396.22 855.4,388.93 868.4,396.51" fill="#C5D9F8" opacity="0.9"/>
<polygon points="843.3,379.35 855.9,386.7 855.9,399.8 843.3,392.45" fill="#0A36AA"/>
<polygon points="855.9,386.7 867,380.23 867,393.33 855.9,399.8" fill="#09329F"/>
<polygon points="854.4,372.88 867,380.23 855.9,386.7 843.3,379.35" fill="#0A36AA"/>
<polygon points="851.7,373.76 864.3,381.1 864.3,394.9 851.7,387.56" fill="#0F5EEA"/>
<polygon points="864.3,381.1 867,379.53 867,393.33 864.3,394.9" fill="#0C4CD2"/>
<polygon points="854.4,372.18 867,379.53 864.3,381.1 851.7,373.76" fill="#3C7EF3"/>
<polygon points="847.5,376.21 860.1,383.55 860.1,397.35 847.5,390.01" fill="#0F5EEA"/>
<polygon points="860.1,383.55 862.8,381.98 862.8,395.78 860.1,397.35" fill="#0C4CD2"/>
<polygon points="850.2,374.63 862.8,381.98 860.1,383.55 847.5,376.21" fill="#3C7EF3"/>
<polygon points="843.3,378.65 855.9,386 855.9,399.8 843.3,392.45" fill="#0F5EEA"/>
<polygon points="855.9,386 858.6,384.43 858.6,398.23 855.9,399.8" fill="#0C4CD2"/>
<polygon points="846,377.08 858.6,384.43 855.9,386 843.3,378.65" fill="#3C7EF3"/>
<g transform="matrix(1.06 0.62 0 1.22 849.6 389.23)" fill="none" stroke="#fff" stroke-width="1.2">
<path d="M2.2 -3.2h-4.4a1 1 0 0 0 -1 1v4.4a1 1 0 0 0 1 1h4.4a1 1 0 0 0 1 -1v-3" stroke-width="1.1"/><path d="M-1.4 -0.2l1.2 1.5l2.6 -3.6" stroke-width="1"/>
</g>
<g fill="#141414" transform="matrix(0.87 0.5 0 1 778.48 212.42)" aria-label="待办提醒"><text x="0" y="13.19" font-size="13">待办提醒</text></g>
<g fill="#141414" transform="matrix(0.87 0.5 0 1 837.38 247.92)" aria-label="对比模式"><text x="0" y="13.19" font-size="13">对比模式</text></g>
<g fill="#141414" transform="matrix(0.87 0.5 0 1 895.58 283.72)" aria-label="说明模式"><text x="0" y="13.19" font-size="13">说明模式</text></g>
<g fill="#141414" transform="matrix(0.87 0.5 0 1 953.78 318.92)" aria-label="留痕模式"><text x="0" y="13.19" font-size="13">留痕模式</text></g>
<g fill="#141414" transform="matrix(0.87 0.5 0 1 708.98 253.72)" aria-label="填报模式"><text x="0" y="13.19" font-size="13">填报模式</text></g>
<g fill="#141414" transform="matrix(0.87 0.5 0 1 767.28 288.92)" aria-label="溯源模式"><text x="0" y="13.19" font-size="13">溯源模式</text></g>
<g fill="#141414" transform="matrix(0.87 0.5 0 1 823.78 308.37)" aria-label="提交强制提交"><text x="13" y="13.19" font-size="13">提交</text><text x="0" y="29.69" font-size="13">强制提交</text></g>
<g fill="#141414" transform="matrix(0.87 0.5 0 1 883.88 356.47)" aria-label="限时撤回"><text x="0" y="13.19" font-size="13">限时撤回</text></g>
<g fill="#141414" transform="matrix(0.87 0.5 0 1 642.58 289.77)" aria-label="批量导出导入"><text x="0" y="13.19" font-size="13">批量导出</text><text x="13" y="29.69" font-size="13">导入</text></g>
<g fill="#141414" transform="matrix(0.87 0.5 0 1 698.18 331.02)" aria-label="流程跟踪"><text x="0" y="13.19" font-size="13">流程跟踪</text></g>
<g fill="#141414" transform="matrix(0.87 0.5 0 1 753.78 364.82)" aria-label="流转过程"><text x="0" y="13.19" font-size="13">流转过程</text></g>
<g fill="#141414" transform="matrix(0.87 0.5 0 1 806.68 397.19)" aria-label="审核/打回"><text x="0" y="13.19" font-size="13">审核/打回</text></g>
<path d="M357.55 460.48L456.3 402.91A19.8 11.54 0 0 1 484.3 402.91L736.75 550.08A19.8 11.54 0 0 1 736.75 566.41L638 623.98A19.8 11.54 0 0 1 610 623.98L357.55 476.8A19.8 11.54 0 0 1 357.55 460.48Z" fill="url(#g48)"/>
<path d="M356.35 444.84L453.5 388.21A19.8 11.54 0 0 1 481.5 388.21L737.95 537.72A19.8 11.54 0 0 1 737.95 554.04L640.8 610.68A19.8 11.54 0 0 1 612.8 610.68L356.35 461.17A19.8 11.54 0 0 1 356.35 444.84Z" fill="#DEEAFC"/>
<path d="M356.35 439.84L453.5 383.21A19.8 11.54 0 0 1 481.5 383.21L737.95 532.72A19.8 11.54 0 0 1 737.95 549.04L640.8 605.68A19.8 11.54 0 0 1 612.8 605.68L356.35 456.17A19.8 11.54 0 0 1 356.35 439.84Z" fill="url(#g49)"/>
<path d="M371.35 441.59L456.7 391.83A18.38 10.72 0 0 1 482.7 391.83L722.15 531.43A18.38 10.72 0 0 1 722.15 546.59L636.8 596.35A18.38 10.72 0 0 1 610.8 596.35L371.35 456.75A18.38 10.72 0 0 1 371.35 441.59Z" fill="none" stroke="#D2E2FB" stroke-width="0.9"/>
<polygon points="428.6,496.83 451.6,483.42 548.6,539.97 525.6,553.38" fill="#0E5BE8"/>
<g fill="#fff" transform="matrix(0.87 0.5 -0.87 0.5 460.53 504.72)" aria-label="批量处理"><text x="0" y="4.94" font-size="13">批量处理</text></g>
<path d="M446.3 431.69L468.3 418.86A7.07 4.12 0 0 1 478.3 418.86L500.3 431.69A7.07 4.12 0 0 1 500.3 437.52L478.3 450.34A7.07 4.12 0 0 1 468.3 450.34L446.3 437.52A7.07 4.12 0 0 1 446.3 431.69Z" fill="url(#g50)"/>
<path d="M447.3 425.19L468.3 412.94A7.07 4.12 0 0 1 478.3 412.94L499.3 425.19A7.07 4.12 0 0 1 499.3 431.02L478.3 443.26A7.07 4.12 0 0 1 468.3 443.26L447.3 431.02A7.07 4.12 0 0 1 447.3 425.19Z" fill="#E4EDFC"/>
<path d="M447.3 423.69L468.3 411.44A7.07 4.12 0 0 1 478.3 411.44L499.3 423.69A7.07 4.12 0 0 1 499.3 429.52L478.3 441.76A7.07 4.12 0 0 1 468.3 441.76L447.3 429.52A7.07 4.12 0 0 1 447.3 423.69Z" fill="url(#g51)"/>
<polygon points="473,396.2 488.4,405.18 488.4,422.42 473,431.4 457.6,422.42 457.6,405.18" fill="#fff" fill-opacity="0.7" stroke="#0F5BE8" stroke-width="1.3" stroke-linejoin="round"/>
<path d="M457.6 405.18L473 413.8L488.4 405.18M473 413.8L473 431.4" fill="none" stroke="#0F5BE8" stroke-width="1.3"/>
<polygon points="473,403.42 481.9,408.61 473,413.8 464.1,408.61" fill="url(#g52)"/>
<polygon points="464.1,408.61 473,413.8 473,424.8 464.1,419.61" fill="url(#g53)"/>
<polygon points="473,413.8 481.9,408.61 481.9,419.61 473,424.8" fill="url(#g54)"/>
<path d="M502.3 465.69L524.3 452.86A7.07 4.12 0 0 1 534.3 452.86L556.3 465.69A7.07 4.12 0 0 1 556.3 471.51L534.3 484.34A7.07 4.12 0 0 1 524.3 484.34L502.3 471.51A7.07 4.12 0 0 1 502.3 465.69Z" fill="url(#g55)"/>
<path d="M503.3 459.19L524.3 446.94A7.07 4.12 0 0 1 534.3 446.94L555.3 459.19A7.07 4.12 0 0 1 555.3 465.01L534.3 477.26A7.07 4.12 0 0 1 524.3 477.26L503.3 465.01A7.07 4.12 0 0 1 503.3 459.19Z" fill="#E4EDFC"/>
<path d="M503.3 457.69L524.3 445.44A7.07 4.12 0 0 1 534.3 445.44L555.3 457.69A7.07 4.12 0 0 1 555.3 463.51L534.3 475.76A7.07 4.12 0 0 1 524.3 475.76L503.3 463.51A7.07 4.12 0 0 1 503.3 457.69Z" fill="url(#g56)"/>
<polygon points="529,430.2 544.4,439.18 544.4,456.42 529,465.4 513.6,456.42 513.6,439.18" fill="#fff" fill-opacity="0.7" stroke="#0F5BE8" stroke-width="1.3" stroke-linejoin="round"/>
<path d="M513.6 439.18L529 447.8L544.4 439.18M529 447.8L529 465.4" fill="none" stroke="#0F5BE8" stroke-width="1.3"/>
<polygon points="529,437.42 537.9,442.61 529,447.8 520.1,442.61" fill="url(#g57)"/>
<polygon points="520.1,442.61 529,447.8 529,458.8 520.1,453.61" fill="url(#g58)"/>
<polygon points="529,447.8 537.9,442.61 537.9,453.61 529,458.8" fill="url(#g59)"/>
<path d="M561.35 500.14L583.35 487.31A7.07 4.12 0 0 1 593.35 487.31L615.35 500.14A7.07 4.12 0 0 1 615.35 505.97L593.35 518.79A7.07 4.12 0 0 1 583.35 518.79L561.35 505.97A7.07 4.12 0 0 1 561.35 500.14Z" fill="url(#g60)"/>
<path d="M562.35 493.64L583.35 481.39A7.07 4.12 0 0 1 593.35 481.39L614.35 493.64A7.07 4.12 0 0 1 614.35 499.47L593.35 511.71A7.07 4.12 0 0 1 583.35 511.71L562.35 499.47A7.07 4.12 0 0 1 562.35 493.64Z" fill="#E4EDFC"/>
<path d="M562.35 492.14L583.35 479.89A7.07 4.12 0 0 1 593.35 479.89L614.35 492.14A7.07 4.12 0 0 1 614.35 497.97L593.35 510.21A7.07 4.12 0 0 1 583.35 510.21L562.35 497.97A7.07 4.12 0 0 1 562.35 492.14Z" fill="url(#g61)"/>
<polygon points="588.05,464.65 603.45,473.63 603.45,490.87 588.05,499.85 572.65,490.87 572.65,473.63" fill="#fff" fill-opacity="0.7" stroke="#0F5BE8" stroke-width="1.3" stroke-linejoin="round"/>
<path d="M572.65 473.63L588.05 482.25L603.45 473.63M588.05 482.25L588.05 499.85" fill="none" stroke="#0F5BE8" stroke-width="1.3"/>
<polygon points="588.05,471.87 596.95,477.06 588.05,482.25 579.15,477.06" fill="url(#g62)"/>
<polygon points="579.15,477.06 588.05,482.25 588.05,493.25 579.15,488.06" fill="url(#g63)"/>
<polygon points="588.05,482.25 596.95,477.06 596.95,488.06 588.05,493.25" fill="url(#g64)"/>
<path d="M620.25 535.18L642.25 522.36A7.07 4.12 0 0 1 652.25 522.36L674.25 535.18A7.07 4.12 0 0 1 674.25 541.01L652.25 553.84A7.07 4.12 0 0 1 642.25 553.84L620.25 541.01A7.07 4.12 0 0 1 620.25 535.18Z" fill="url(#g65)"/>
<path d="M621.25 528.68L642.25 516.44A7.07 4.12 0 0 1 652.25 516.44L673.25 528.68A7.07 4.12 0 0 1 673.25 534.51L652.25 546.76A7.07 4.12 0 0 1 642.25 546.76L621.25 534.51A7.07 4.12 0 0 1 621.25 528.68Z" fill="#E4EDFC"/>
<path d="M621.25 527.18L642.25 514.94A7.07 4.12 0 0 1 652.25 514.94L673.25 527.18A7.07 4.12 0 0 1 673.25 533.01L652.25 545.26A7.07 4.12 0 0 1 642.25 545.26L621.25 533.01A7.07 4.12 0 0 1 621.25 527.18Z" fill="url(#g66)"/>
<polygon points="646.95,499.7 662.35,508.68 662.35,525.92 646.95,534.9 631.55,525.92 631.55,508.68" fill="#fff" fill-opacity="0.7" stroke="#0F5BE8" stroke-width="1.3" stroke-linejoin="round"/>
<path d="M631.55 508.68L646.95 517.3L662.35 508.68M646.95 517.3L646.95 534.9" fill="none" stroke="#0F5BE8" stroke-width="1.3"/>
<polygon points="646.95,506.92 655.85,512.11 646.95,517.3 638.05,512.11" fill="url(#g67)"/>
<polygon points="638.05,512.11 646.95,517.3 646.95,528.3 638.05,523.11" fill="url(#g68)"/>
<polygon points="646.95,517.3 655.85,512.11 655.85,523.11 646.95,528.3" fill="url(#g69)"/>
<g fill="#141414" transform="matrix(0.87 0.5 0 1 431.58 423.92)" aria-label="分发配置"><text x="0" y="13.19" font-size="13">分发配置</text></g>
<g fill="#141414" transform="matrix(0.87 0.5 0 1 489.88 454.57)" aria-label="批量数据处理"><text x="0" y="13.19" font-size="13">批量数据</text><text x="13" y="29.69" font-size="13">处理</text></g>
<g fill="#141414" transform="matrix(0.87 0.5 0 1 554.81 492.55)" aria-label="通用批处理"><text x="6.5" y="13.19" font-size="13">通用</text><text x="0" y="29.69" font-size="13">批处理</text></g>
<g fill="#141414" transform="matrix(0.87 0.5 0 1 613.11 527.55)" aria-label="批处理监控"><text x="0" y="13.19" font-size="13">批处理</text><text x="6.5" y="29.69" font-size="13">监控</text></g>
<path d="M948.05 466.25L1100.2 377.54A19.8 11.54 0 0 1 1128.2 377.54L1249.6 448.32A19.8 11.54 0 0 1 1249.6 464.65L1097.45 553.35A19.8 11.54 0 0 1 1069.45 553.35L948.05 482.57A19.8 11.54 0 0 1 948.05 466.25Z" fill="url(#g70)"/>
<path d="M946.85 450.62L1097.4 362.85A19.8 11.54 0 0 1 1125.4 362.85L1250.8 435.95A19.8 11.54 0 0 1 1250.8 452.28L1100.25 540.05A19.8 11.54 0 0 1 1072.25 540.05L946.85 466.94A19.8 11.54 0 0 1 946.85 450.62Z" fill="#DEEAFC"/>
<path d="M946.85 445.62L1097.4 357.85A19.8 11.54 0 0 1 1125.4 357.85L1250.8 430.95A19.8 11.54 0 0 1 1250.8 447.28L1100.25 535.05A19.8 11.54 0 0 1 1072.25 535.05L946.85 461.94A19.8 11.54 0 0 1 946.85 445.62Z" fill="url(#g71)"/>
<path d="M961.85 447.37L1100.6 366.47A18.38 10.72 0 0 1 1126.6 366.47L1235 429.67A18.38 10.72 0 0 1 1235 444.83L1096.25 525.72A18.38 10.72 0 0 1 1070.25 525.72L961.85 462.52A18.38 10.72 0 0 1 961.85 447.37Z" fill="none" stroke="#D2E2FB" stroke-width="0.9"/>
<polygon points="959.9,469.14 982.9,455.73 1079.9,512.28 1056.9,525.69" fill="#0E5BE8"/>
<g fill="#fff" transform="matrix(0.87 0.5 -0.87 0.5 979.5 467.74)" aria-label="业务完整性检查"><text x="0" y="4.94" font-size="13">业务完整性检查</text></g>
<path d="M803.55 554.69L901.75 497.44A19.8 11.54 0 0 1 929.75 497.44L1050.55 567.87A19.8 11.54 0 0 1 1050.55 584.19L952.35 641.44A19.8 11.54 0 0 1 924.35 641.44L803.55 571.01A19.8 11.54 0 0 1 803.55 554.69Z" fill="url(#g72)"/>
<path d="M802.35 539.06L898.95 482.74A19.8 11.54 0 0 1 926.95 482.74L1051.75 555.5A19.8 11.54 0 0 1 1051.75 571.82L955.15 628.14A19.8 11.54 0 0 1 927.15 628.14L802.35 555.38A19.8 11.54 0 0 1 802.35 539.06Z" fill="#DEEAFC"/>
<path d="M802.35 534.06L898.95 477.74A19.8 11.54 0 0 1 926.95 477.74L1051.75 550.5A19.8 11.54 0 0 1 1051.75 566.82L955.15 623.14A19.8 11.54 0 0 1 927.15 623.14L802.35 550.38A19.8 11.54 0 0 1 802.35 534.06Z" fill="url(#g73)"/>
<path d="M817.35 535.81L902.15 486.37A18.38 10.72 0 0 1 928.15 486.37L1035.95 549.22A18.38 10.72 0 0 1 1035.95 564.37L951.15 613.81A18.38 10.72 0 0 1 925.15 613.81L817.35 550.96A18.38 10.72 0 0 1 817.35 535.81Z" fill="none" stroke="#D2E2FB" stroke-width="0.9"/>
<polygon points="815.7,557.87 838.7,544.46 935.7,601.01 912.7,614.42" fill="#0E5BE8"/>
<g fill="#fff" transform="matrix(0.87 0.5 -0.87 0.5 835.3 556.47)" aria-label="业务完整性检查"><text x="0" y="4.94" font-size="13">业务完整性检查</text></g>
<path d="M668.35 646.19L766.55 588.93A19.8 11.54 0 0 1 794.55 588.93L915.35 659.36A19.8 11.54 0 0 1 915.35 675.69L817.15 732.94A19.8 11.54 0 0 1 789.15 732.94L668.35 662.51A19.8 11.54 0 0 1 668.35 646.19Z" fill="url(#g74)"/>
<path d="M667.15 630.55L763.75 574.24A19.8 11.54 0 0 1 791.75 574.24L916.55 646.99A19.8 11.54 0 0 1 916.55 663.32L819.95 719.64A19.8 11.54 0 0 1 791.95 719.64L667.15 646.88A19.8 11.54 0 0 1 667.15 630.55Z" fill="#DEEAFC"/>
<path d="M667.15 625.55L763.75 569.24A19.8 11.54 0 0 1 791.75 569.24L916.55 641.99A19.8 11.54 0 0 1 916.55 658.32L819.95 714.64A19.8 11.54 0 0 1 791.95 714.64L667.15 641.88A19.8 11.54 0 0 1 667.15 625.55Z" fill="url(#g75)"/>
<path d="M682.15 627.3L766.95 577.86A18.38 10.72 0 0 1 792.95 577.86L900.75 640.71A18.38 10.72 0 0 1 900.75 655.87L815.95 705.31A18.38 10.72 0 0 1 789.95 705.31L682.15 642.46A18.38 10.72 0 0 1 682.15 627.3Z" fill="none" stroke="#D2E2FB" stroke-width="0.9"/>
<polygon points="680.5,649.37 703.5,635.96 800.5,692.51 777.5,705.92" fill="#0E5BE8"/>
<g fill="#fff" transform="matrix(0.87 0.5 -0.87 0.5 705.46 652.38)" aria-label="IT运维检查"><text x="0" y="4.94" font-size="13">IT运维检查</text></g>
<path d="M1028 434.08L1050 421.26A7.07 4.12 0 0 1 1060 421.26L1082 434.08A7.07 4.12 0 0 1 1082 439.91L1060 452.74A7.07 4.12 0 0 1 1050 452.74L1028 439.91A7.07 4.12 0 0 1 1028 434.08Z" fill="url(#g76)"/>
<path d="M1029 427.58L1050 415.34A7.07 4.12 0 0 1 1060 415.34L1081 427.58A7.07 4.12 0 0 1 1081 433.41L1060 445.66A7.07 4.12 0 0 1 1050 445.66L1029 433.41A7.07 4.12 0 0 1 1029 427.58Z" fill="#E4EDFC"/>
<path d="M1029 426.08L1050 413.84A7.07 4.12 0 0 1 1060 413.84L1081 426.08A7.07 4.12 0 0 1 1081 431.91L1060 444.16A7.07 4.12 0 0 1 1050 444.16L1029 431.91A7.07 4.12 0 0 1 1029 426.08Z" fill="url(#g77)"/>
<ellipse cx="1055.2" cy="429.6" rx="12" ry="6.7" fill="#BDD4F7" opacity="0.9"/>
<path d="M1043.2 418.8V425.8A12 6.7 0 0 0 1067.2 425.8V418.8Z" fill="#0F5DE9"/>
<ellipse cx="1055.2" cy="418.8" rx="12" ry="6.7" fill="url(#g78)"/>
<ellipse cx="1055.2" cy="419" rx="6" ry="3.3" fill="#0F5DE9"/>
<polygon points="1060.6,405.94 1065.2,408.62 1060.6,411.3 1056,408.62" fill="#4C89F3"/>
<polygon points="1056,408.62 1060.6,411.3 1060.6,415.5 1056,412.82" fill="#2A6FEF"/>
<polygon points="1060.6,411.3 1065.2,408.62 1065.2,412.82 1060.6,415.5" fill="#0F5AE2"/>
<circle cx="1048.4" cy="409.6" r="2.5" fill="#0F5DE9"/>
<path d="M1118.5 412.28L1140.5 399.46A7.07 4.12 0 0 1 1150.5 399.46L1172.5 412.28A7.07 4.12 0 0 1 1172.5 418.11L1150.5 430.94A7.07 4.12 0 0 1 1140.5 430.94L1118.5 418.11A7.07 4.12 0 0 1 1118.5 412.28Z" fill="url(#g79)"/>
<path d="M1119.5 405.78L1140.5 393.54A7.07 4.12 0 0 1 1150.5 393.54L1171.5 405.78A7.07 4.12 0 0 1 1171.5 411.61L1150.5 423.86A7.07 4.12 0 0 1 1140.5 423.86L1119.5 411.61A7.07 4.12 0 0 1 1119.5 405.78Z" fill="#E4EDFC"/>
<path d="M1119.5 404.28L1140.5 392.04A7.07 4.12 0 0 1 1150.5 392.04L1171.5 404.28A7.07 4.12 0 0 1 1171.5 410.11L1150.5 422.36A7.07 4.12 0 0 1 1140.5 422.36L1119.5 410.11A7.07 4.12 0 0 1 1119.5 404.28Z" fill="url(#g80)"/>
<ellipse cx="1145.7" cy="407.8" rx="12" ry="6.7" fill="#BDD4F7" opacity="0.9"/>
<path d="M1133.7 397V404A12 6.7 0 0 0 1157.7 404V397Z" fill="#0F5DE9"/>
<ellipse cx="1145.7" cy="397" rx="12" ry="6.7" fill="url(#g81)"/>
<ellipse cx="1145.7" cy="397.2" rx="6" ry="3.3" fill="#0F5DE9"/>
<polygon points="1151.1,384.14 1155.7,386.82 1151.1,389.5 1146.5,386.82" fill="#4C89F3"/>
<polygon points="1146.5,386.82 1151.1,389.5 1151.1,393.7 1146.5,391.02" fill="#2A6FEF"/>
<polygon points="1151.1,389.5 1155.7,386.82 1155.7,391.02 1151.1,393.7" fill="#0F5AE2"/>
<circle cx="1138.9" cy="387.8" r="2.5" fill="#0F5DE9"/>
<path d="M1084.6 470.38L1106.6 457.56A7.07 4.12 0 0 1 1116.6 457.56L1138.6 470.38A7.07 4.12 0 0 1 1138.6 476.21L1116.6 489.04A7.07 4.12 0 0 1 1106.6 489.04L1084.6 476.21A7.07 4.12 0 0 1 1084.6 470.38Z" fill="url(#g82)"/>
<path d="M1085.6 463.88L1106.6 451.64A7.07 4.12 0 0 1 1116.6 451.64L1137.6 463.88A7.07 4.12 0 0 1 1137.6 469.71L1116.6 481.96A7.07 4.12 0 0 1 1106.6 481.96L1085.6 469.71A7.07 4.12 0 0 1 1085.6 463.88Z" fill="#E4EDFC"/>
<path d="M1085.6 462.38L1106.6 450.14A7.07 4.12 0 0 1 1116.6 450.14L1137.6 462.38A7.07 4.12 0 0 1 1137.6 468.21L1116.6 480.46A7.07 4.12 0 0 1 1106.6 480.46L1085.6 468.21A7.07 4.12 0 0 1 1085.6 462.38Z" fill="url(#g83)"/>
<ellipse cx="1111.8" cy="465.9" rx="12" ry="6.7" fill="#BDD4F7" opacity="0.9"/>
<path d="M1099.8 455.1V462.1A12 6.7 0 0 0 1123.8 462.1V455.1Z" fill="#0F5DE9"/>
<ellipse cx="1111.8" cy="455.1" rx="12" ry="6.7" fill="url(#g84)"/>
<ellipse cx="1111.8" cy="455.3" rx="6" ry="3.3" fill="#0F5DE9"/>
<polygon points="1117.2,442.24 1121.8,444.92 1117.2,447.6 1112.6,444.92" fill="#4C89F3"/>
<polygon points="1112.6,444.92 1117.2,447.6 1117.2,451.8 1112.6,449.12" fill="#2A6FEF"/>
<polygon points="1117.2,447.6 1121.8,444.92 1121.8,449.12 1117.2,451.8" fill="#0F5AE2"/>
<circle cx="1105" cy="445.9" r="2.5" fill="#0F5DE9"/>
<path d="M877.1 521.99L899.1 509.16A7.07 4.12 0 0 1 909.1 509.16L931.1 521.99A7.07 4.12 0 0 1 931.1 527.81L909.1 540.64A7.07 4.12 0 0 1 899.1 540.64L877.1 527.81A7.07 4.12 0 0 1 877.1 521.99Z" fill="url(#g85)"/>
<path d="M878.1 515.49L899.1 503.24A7.07 4.12 0 0 1 909.1 503.24L930.1 515.49A7.07 4.12 0 0 1 930.1 521.31L909.1 533.56A7.07 4.12 0 0 1 899.1 533.56L878.1 521.31A7.07 4.12 0 0 1 878.1 515.49Z" fill="#E4EDFC"/>
<path d="M878.1 513.99L899.1 501.74A7.07 4.12 0 0 1 909.1 501.74L930.1 513.99A7.07 4.12 0 0 1 930.1 519.81L909.1 532.06A7.07 4.12 0 0 1 899.1 532.06L878.1 519.81A7.07 4.12 0 0 1 878.1 513.99Z" fill="url(#g86)"/>
<ellipse cx="904.3" cy="517.5" rx="12" ry="6.7" fill="#BDD4F7" opacity="0.9"/>
<path d="M892.3 506.7V513.7A12 6.7 0 0 0 916.3 513.7V506.7Z" fill="#0F5DE9"/>
<ellipse cx="904.3" cy="506.7" rx="12" ry="6.7" fill="url(#g87)"/>
<ellipse cx="904.3" cy="506.9" rx="6" ry="3.3" fill="#0F5DE9"/>
<polygon points="909.7,493.84 914.3,496.52 909.7,499.2 905.1,496.52" fill="#4C89F3"/>
<polygon points="905.1,496.52 909.7,499.2 909.7,503.4 905.1,500.72" fill="#2A6FEF"/>
<polygon points="909.7,499.2 914.3,496.52 914.3,500.72 909.7,503.4" fill="#0F5AE2"/>
<circle cx="897.5" cy="497.5" r="2.5" fill="#0F5DE9"/>
<path d="M939.4 557.88L961.4 545.06A7.07 4.12 0 0 1 971.4 545.06L993.4 557.88A7.07 4.12 0 0 1 993.4 563.71L971.4 576.54A7.07 4.12 0 0 1 961.4 576.54L939.4 563.71A7.07 4.12 0 0 1 939.4 557.88Z" fill="url(#g88)"/>
<path d="M940.4 551.38L961.4 539.14A7.07 4.12 0 0 1 971.4 539.14L992.4 551.38A7.07 4.12 0 0 1 992.4 557.21L971.4 569.46A7.07 4.12 0 0 1 961.4 569.46L940.4 557.21A7.07 4.12 0 0 1 940.4 551.38Z" fill="#E4EDFC"/>
<path d="M940.4 549.88L961.4 537.64A7.07 4.12 0 0 1 971.4 537.64L992.4 549.88A7.07 4.12 0 0 1 992.4 555.71L971.4 567.96A7.07 4.12 0 0 1 961.4 567.96L940.4 555.71A7.07 4.12 0 0 1 940.4 549.88Z" fill="url(#g89)"/>
<ellipse cx="966.6" cy="553.4" rx="12" ry="6.7" fill="#BDD4F7" opacity="0.9"/>
<path d="M954.6 542.6V549.6A12 6.7 0 0 0 978.6 549.6V542.6Z" fill="#0F5DE9"/>
<ellipse cx="966.6" cy="542.6" rx="12" ry="6.7" fill="url(#g90)"/>
<ellipse cx="966.6" cy="542.8" rx="6" ry="3.3" fill="#0F5DE9"/>
<polygon points="972,529.74 976.6,532.42 972,535.1 967.4,532.42" fill="#4C89F3"/>
<polygon points="967.4,532.42 972,535.1 972,539.3 967.4,536.62" fill="#2A6FEF"/>
<polygon points="972,535.1 976.6,532.42 976.6,536.62 972,539.3" fill="#0F5AE2"/>
<circle cx="959.8" cy="533.4" r="2.5" fill="#0F5DE9"/>
<path d="M741.9 613.49L763.9 600.66A7.07 4.12 0 0 1 773.9 600.66L795.9 613.49A7.07 4.12 0 0 1 795.9 619.32L773.9 632.14A7.07 4.12 0 0 1 763.9 632.14L741.9 619.32A7.07 4.12 0 0 1 741.9 613.49Z" fill="url(#g91)"/>
<path d="M742.9 606.99L763.9 594.74A7.07 4.12 0 0 1 773.9 594.74L794.9 606.99A7.07 4.12 0 0 1 794.9 612.82L773.9 625.06A7.07 4.12 0 0 1 763.9 625.06L742.9 612.82A7.07 4.12 0 0 1 742.9 606.99Z" fill="#E4EDFC"/>
<path d="M742.9 605.49L763.9 593.24A7.07 4.12 0 0 1 773.9 593.24L794.9 605.49A7.07 4.12 0 0 1 794.9 611.32L773.9 623.56A7.07 4.12 0 0 1 763.9 623.56L742.9 611.32A7.07 4.12 0 0 1 742.9 605.49Z" fill="url(#g92)"/>
<ellipse cx="769.1" cy="609" rx="12" ry="6.7" fill="#BDD4F7" opacity="0.9"/>
<path d="M757.1 598.2V605.2A12 6.7 0 0 0 781.1 605.2V598.2Z" fill="#0F5DE9"/>
<ellipse cx="769.1" cy="598.2" rx="12" ry="6.7" fill="url(#g93)"/>
<ellipse cx="769.1" cy="598.4" rx="6" ry="3.3" fill="#0F5DE9"/>
<polygon points="774.5,585.34 779.1,588.02 774.5,590.7 769.9,588.02" fill="#4C89F3"/>
<polygon points="769.9,588.02 774.5,590.7 774.5,594.9 769.9,592.22" fill="#2A6FEF"/>
<polygon points="774.5,590.7 779.1,588.02 779.1,592.22 774.5,594.9" fill="#0F5AE2"/>
<circle cx="762.3" cy="589" r="2.5" fill="#0F5DE9"/>
<path d="M804.2 649.38L826.2 636.56A7.07 4.12 0 0 1 836.2 636.56L858.2 649.38A7.07 4.12 0 0 1 858.2 655.21L836.2 668.04A7.07 4.12 0 0 1 826.2 668.04L804.2 655.21A7.07 4.12 0 0 1 804.2 649.38Z" fill="url(#g94)"/>
<path d="M805.2 642.88L826.2 630.64A7.07 4.12 0 0 1 836.2 630.64L857.2 642.88A7.07 4.12 0 0 1 857.2 648.71L836.2 660.96A7.07 4.12 0 0 1 826.2 660.96L805.2 648.71A7.07 4.12 0 0 1 805.2 642.88Z" fill="#E4EDFC"/>
<path d="M805.2 641.38L826.2 629.14A7.07 4.12 0 0 1 836.2 629.14L857.2 641.38A7.07 4.12 0 0 1 857.2 647.21L836.2 659.46A7.07 4.12 0 0 1 826.2 659.46L805.2 647.21A7.07 4.12 0 0 1 805.2 641.38Z" fill="url(#g95)"/>
<ellipse cx="831.4" cy="644.9" rx="12" ry="6.7" fill="#BDD4F7" opacity="0.9"/>
<path d="M819.4 634.1V641.1A12 6.7 0 0 0 843.4 641.1V634.1Z" fill="#0F5DE9"/>
<ellipse cx="831.4" cy="634.1" rx="12" ry="6.7" fill="url(#g96)"/>
<ellipse cx="831.4" cy="634.3" rx="6" ry="3.3" fill="#0F5DE9"/>
<polygon points="836.8,621.24 841.4,623.92 836.8,626.6 832.2,623.92" fill="#4C89F3"/>
<polygon points="832.2,623.92 836.8,626.6 836.8,630.8 832.2,628.12" fill="#2A6FEF"/>
<polygon points="836.8,626.6 841.4,623.92 841.4,628.12 836.8,630.8" fill="#0F5AE2"/>
<circle cx="824.6" cy="624.9" r="2.5" fill="#0F5DE9"/>
<g fill="#141414" transform="matrix(0.87 0.5 0 1 1011.33 422.87)" aria-label="校验结果查询"><text x="0" y="13.19" font-size="13">校验结果</text><text x="13" y="29.69" font-size="13">查询</text></g>
<g fill="#141414" transform="matrix(0.87 0.5 0 1 1092.19 400.26)" aria-label="下级完成情况"><text x="0" y="13.19" font-size="13">下级完成情况</text></g>
<g fill="#141414" transform="matrix(0.87 0.5 0 1 1069.88 460.57)" aria-label="报表状态查询"><text x="0" y="13.19" font-size="13">报表状态</text><text x="13" y="29.69" font-size="13">查询</text></g>
<g fill="#141414" transform="matrix(0.87 0.5 0 1 863.58 508.07)" aria-label="流程配置完整性"><text x="0" y="13.19" font-size="13">流程配置</text><text x="0" y="29.69" font-size="13">完整性</text></g>
<g fill="#141414" transform="matrix(0.87 0.5 0 1 925.93 544.57)" aria-label="报表配置完整性"><text x="0" y="13.19" font-size="13">报表配置</text><text x="0" y="29.69" font-size="13">完整性</text></g>
<g fill="#141414" transform="matrix(0.87 0.5 0 1 728.38 599.57)" aria-label="流程配置完整性"><text x="0" y="13.19" font-size="13">流程配置</text><text x="0" y="29.69" font-size="13">完整性</text></g>
<g fill="#141414" transform="matrix(0.87 0.5 0 1 790.73 636.07)" aria-label="报表配置完整性"><text x="0" y="13.19" font-size="13">报表配置</text><text x="0" y="29.69" font-size="13">完整性</text></g>
<polygon points="341.8,552.1 365.1,538.52 512.1,624.22 488.8,637.8" fill="#0E5BE8"/>
<g fill="#fff" transform="matrix(0.87 0.5 -0.87 0.5 377.79 558.33)" aria-label="新一代监管报送平台"><text x="0" y="4.94" font-size="13">新一代监管报送平台</text></g>
<path d="M804.4 97.7L883.9 51.36A19.8 11.54 0 0 1 911.9 51.36L1143 186.09A19.8 11.54 0 0 1 1143 202.41L1063.5 248.76A19.8 11.54 0 0 1 1035.5 248.76L804.4 114.03A19.8 11.54 0 0 1 804.4 97.7Z" fill="url(#g97)"/>
<path d="M803.2 82.07L881.1 36.66A19.8 11.54 0 0 1 909.1 36.66L1144.2 173.72A19.8 11.54 0 0 1 1144.2 190.04L1066.3 235.46A19.8 11.54 0 0 1 1038.3 235.46L803.2 98.4A19.8 11.54 0 0 1 803.2 82.07Z" fill="#DEEAFC"/>
<path d="M803.2 77.07L881.1 31.66A19.8 11.54 0 0 1 909.1 31.66L1144.2 168.72A19.8 11.54 0 0 1 1144.2 185.04L1066.3 230.46A19.8 11.54 0 0 1 1038.3 230.46L803.2 93.4A19.8 11.54 0 0 1 803.2 77.07Z" fill="url(#g98)"/>
<path d="M818.2 78.82L884.3 40.29A18.38 10.72 0 0 1 910.3 40.29L1128.4 167.44A18.38 10.72 0 0 1 1128.4 182.6L1062.3 221.13A18.38 10.72 0 0 1 1036.3 221.13L818.2 93.98A18.38 10.72 0 0 1 818.2 78.82Z" fill="none" stroke="#D2E2FB" stroke-width="0.9"/>
<polygon points="882.3,137.65 905.3,124.24 1002.3,180.79 979.3,194.2" fill="#0E5BE8"/>
<g fill="#fff" transform="matrix(0.87 0.5 -0.87 0.5 910.07 141.24)" aria-label="统一门户"><text x="0" y="4.94" font-size="13" letter-spacing="5.4">统一门户</text></g>
<path d="M955.6 125.68L977.6 112.86A7.07 4.12 0 0 1 987.6 112.86L1009.6 125.68A7.07 4.12 0 0 1 1009.6 131.51L987.6 144.34A7.07 4.12 0 0 1 977.6 144.34L955.6 131.51A7.07 4.12 0 0 1 955.6 125.68Z" fill="url(#g99)"/>
<path d="M956.6 119.18L977.6 106.94A7.07 4.12 0 0 1 987.6 106.94L1008.6 119.18A7.07 4.12 0 0 1 1008.6 125.01L987.6 137.26A7.07 4.12 0 0 1 977.6 137.26L956.6 125.01A7.07 4.12 0 0 1 956.6 119.18Z" fill="#E4EDFC"/>
<path d="M956.6 117.68L977.6 105.44A7.07 4.12 0 0 1 987.6 105.44L1008.6 117.68A7.07 4.12 0 0 1 1008.6 123.51L987.6 135.76A7.07 4.12 0 0 1 977.6 135.76L956.6 123.51A7.07 4.12 0 0 1 956.6 117.68Z" fill="url(#g100)"/>
<polygon points="975.8,84.62 999.3,98.32 999.3,119.12 975.8,105.42" fill="url(#g101)" opacity="0.93"/>
<polygon points="999.3,98.32 1004.7,95.17 1004.7,115.97 999.3,119.12" fill="url(#g102)" opacity="0.93"/>
<polygon points="981.2,81.47 1004.7,95.17 999.3,98.32 975.8,84.62" fill="#9CC6FA" opacity="0.93"/>
<circle cx="1002" cy="101.75" r="1" fill="#fff"/>
<polygon points="969.3,88.41 992.8,102.11 992.8,122.91 969.3,109.21" fill="url(#g103)" opacity="0.93"/>
<polygon points="992.8,102.11 998.2,98.96 998.2,119.76 992.8,122.91" fill="url(#g104)" opacity="0.93"/>
<polygon points="974.7,85.26 998.2,98.96 992.8,102.11 969.3,88.41" fill="#9CC6FA" opacity="0.93"/>
<circle cx="995.5" cy="105.54" r="1" fill="#fff"/>
<polygon points="962.8,92.2 986.3,105.9 986.3,126.7 962.8,113" fill="url(#g105)" opacity="0.93"/>
<polygon points="986.3,105.9 991.7,102.75 991.7,123.55 986.3,126.7" fill="url(#g106)" opacity="0.93"/>
<polygon points="968.2,89.05 991.7,102.75 986.3,105.9 962.8,92.2" fill="#9CC6FA" opacity="0.93"/>
<circle cx="989" cy="109.33" r="1" fill="#fff"/>
<polygon points="930,185.3 958.3,233.9 943.7,224.93 943.7,250.8 913.2,233.02 913.2,207.14 897,197.7" fill="url(#g107)"/>
<path d="M55.3 577.46L155.4 519.1A19.8 11.54 0 0 1 183.4 519.1L303.45 589.09A19.8 11.54 0 0 1 303.45 605.41L203.35 663.77A19.8 11.54 0 0 1 175.35 663.77L55.3 593.78A19.8 11.54 0 0 1 55.3 577.46Z" fill="url(#g108)"/>
<path d="M54.1 561.82L152.6 504.4A19.8 11.54 0 0 1 180.6 504.4L304.65 576.72A19.8 11.54 0 0 1 304.65 593.04L206.15 650.47A19.8 11.54 0 0 1 178.15 650.47L54.1 578.15A19.8 11.54 0 0 1 54.1 561.82Z" fill="#DEEAFC"/>
<path d="M54.1 556.82L152.6 499.4A19.8 11.54 0 0 1 180.6 499.4L304.65 571.72A19.8 11.54 0 0 1 304.65 588.04L206.15 645.47A19.8 11.54 0 0 1 178.15 645.47L54.1 573.15A19.8 11.54 0 0 1 54.1 556.82Z" fill="url(#g109)"/>
<path d="M69.1 558.57L155.8 508.03A18.38 10.72 0 0 1 181.8 508.03L288.85 570.44A18.38 10.72 0 0 1 288.85 585.59L202.15 636.14A18.38 10.72 0 0 1 176.15 636.14L69.1 573.73A18.38 10.72 0 0 1 69.1 558.57Z" fill="none" stroke="#D2E2FB" stroke-width="0.9"/>
<polygon points="70.4,581.25 93.4,567.84 190.4,624.39 167.4,637.8" fill="#F05A24"/>
<g fill="#fff" transform="matrix(0.87 0.5 -0.87 0.5 103.88 588.7)" aria-label="外部系统"><text x="0" y="4.94" font-size="13">外部系统</text></g>
<path d="M130 543.59L152 530.76A7.07 4.12 0 0 1 162 530.76L184 543.59A7.07 4.12 0 0 1 184 549.42L162 562.24A7.07 4.12 0 0 1 152 562.24L130 549.42A7.07 4.12 0 0 1 130 543.59Z" fill="url(#g110)"/>
<path d="M131 537.09L152 524.84A7.07 4.12 0 0 1 162 524.84L183 537.09A7.07 4.12 0 0 1 183 542.92L162 555.16A7.07 4.12 0 0 1 152 555.16L131 542.92A7.07 4.12 0 0 1 131 537.09Z" fill="#E4EDFC"/>
<path d="M131 535.59L152 523.34A7.07 4.12 0 0 1 162 523.34L183 535.59A7.07 4.12 0 0 1 183 541.42L162 553.66A7.07 4.12 0 0 1 152 553.66L131 541.42A7.07 4.12 0 0 1 131 535.59Z" fill="url(#g111)"/>
<polygon points="157.4,542.5 145.4,535.5 154,530.49 166,537.49" fill="#C3D8F7" opacity="0.8"/>
<polygon points="145.4,515 157.4,522 157.4,538 145.4,531" fill="#DDE9FB"/>
<polygon points="157.4,522 166,516.99 166,532.99 157.4,538" fill="#A9C6E9"/>
<polygon points="154,509.99 166,516.99 157.4,522 145.4,515" fill="#FFFFFF"/>
<polygon points="145.4,523.1 157.4,530.1 157.4,532.4 145.4,525.4" fill="#FF8A1F"/>
<polygon points="157.4,530.1 166,525.09 166,527.39 157.4,532.4" fill="#F0641E"/>
<path d="M146.7 519.56L150.7 521.89" stroke="#F0641E" stroke-width="1.4" fill="none"/>
<path d="M146.7 528.76L150.7 531.09" stroke="#F0641E" stroke-width="1.4" fill="none"/>
<path d="M193.6 579.69L215.6 566.86A7.07 4.12 0 0 1 225.6 566.86L247.6 579.69A7.07 4.12 0 0 1 247.6 585.51L225.6 598.34A7.07 4.12 0 0 1 215.6 598.34L193.6 585.51A7.07 4.12 0 0 1 193.6 579.69Z" fill="url(#g112)"/>
<path d="M194.6 573.19L215.6 560.94A7.07 4.12 0 0 1 225.6 560.94L246.6 573.19A7.07 4.12 0 0 1 246.6 579.01L225.6 591.26A7.07 4.12 0 0 1 215.6 591.26L194.6 579.01A7.07 4.12 0 0 1 194.6 573.19Z" fill="#E4EDFC"/>
<path d="M194.6 571.69L215.6 559.44A7.07 4.12 0 0 1 225.6 559.44L246.6 571.69A7.07 4.12 0 0 1 246.6 577.51L225.6 589.76A7.07 4.12 0 0 1 215.6 589.76L194.6 577.51A7.07 4.12 0 0 1 194.6 571.69Z" fill="url(#g113)"/>
<polygon points="221,578.6 209,571.6 217.6,566.59 229.6,573.59" fill="#C3D8F7" opacity="0.8"/>
<polygon points="209,551.1 221,558.1 221,574.1 209,567.1" fill="#DDE9FB"/>
<polygon points="221,558.1 229.6,553.09 229.6,569.09 221,574.1" fill="#A9C6E9"/>
<polygon points="217.6,546.09 229.6,553.09 221,558.1 209,551.1" fill="#FFFFFF"/>
<polygon points="209,559.2 221,566.2 221,568.5 209,561.5" fill="#FF8A1F"/>
<polygon points="221,566.2 229.6,561.19 229.6,563.49 221,568.5" fill="#F0641E"/>
<path d="M210.3 555.66L214.3 557.99" stroke="#F0641E" stroke-width="1.4" fill="none"/>
<path d="M210.3 564.86L214.3 567.19" stroke="#F0641E" stroke-width="1.4" fill="none"/>
<g fill="#141414" transform="matrix(0.87 0.5 0 1 110.08 541.82)" aria-label="补录系统"><text x="0" y="13.19" font-size="13">补录系统</text></g>
<g fill="#141414" transform="matrix(0.87 0.5 0 1 166.98 575.12)" aria-label="调度系统"><text x="0" y="13.19" font-size="13">调度系统</text></g>
<path d="M240.9 681.11L339.25 623.78A19.8 11.54 0 0 1 367.25 623.78L693.7 814.1A19.8 11.54 0 0 1 693.7 830.42L595.35 887.76A19.8 11.54 0 0 1 567.35 887.76L240.9 697.44A19.8 11.54 0 0 1 240.9 681.11Z" fill="url(#g114)"/>
<path d="M239.7 665.48L336.45 609.08A19.8 11.54 0 0 1 364.45 609.08L694.9 801.73A19.8 11.54 0 0 1 694.9 818.05L598.15 874.46A19.8 11.54 0 0 1 570.15 874.46L239.7 681.8A19.8 11.54 0 0 1 239.7 665.48Z" fill="#DEEAFC"/>
<path d="M239.7 660.48L336.45 604.08A19.8 11.54 0 0 1 364.45 604.08L694.9 796.73A19.8 11.54 0 0 1 694.9 813.05L598.15 869.46A19.8 11.54 0 0 1 570.15 869.46L239.7 676.8A19.8 11.54 0 0 1 239.7 660.48Z" fill="url(#g115)"/>
<path d="M254.7 662.23L339.65 612.7A18.38 10.72 0 0 1 365.65 612.7L679.1 795.45A18.38 10.72 0 0 1 679.1 810.6L594.15 860.13A18.38 10.72 0 0 1 568.15 860.13L254.7 677.39A18.38 10.72 0 0 1 254.7 662.23Z" fill="none" stroke="#D2E2FB" stroke-width="0.9"/>
<polygon points="348.8,739.94 371.8,726.53 468.8,783.09 445.8,796.49" fill="#F05A24"/>
<g fill="#fff" transform="matrix(0.87 0.5 -0.87 0.5 382.45 745.98)" aria-label="ETL处理"><text x="0" y="4.94" font-size="13">ETL处理</text></g>
<path d="M325.5 664.98L347.5 652.16A7.07 4.12 0 0 1 357.5 652.16L379.5 664.98A7.07 4.12 0 0 1 379.5 670.81L357.5 683.64A7.07 4.12 0 0 1 347.5 683.64L325.5 670.81A7.07 4.12 0 0 1 325.5 664.98Z" fill="url(#g116)"/>
<path d="M326.5 658.48L347.5 646.24A7.07 4.12 0 0 1 357.5 646.24L378.5 658.48A7.07 4.12 0 0 1 378.5 664.31L357.5 676.56A7.07 4.12 0 0 1 347.5 676.56L326.5 664.31A7.07 4.12 0 0 1 326.5 658.48Z" fill="#E4EDFC"/>
<path d="M326.5 656.98L347.5 644.74A7.07 4.12 0 0 1 357.5 644.74L378.5 656.98A7.07 4.12 0 0 1 378.5 662.81L357.5 675.06A7.07 4.12 0 0 1 347.5 675.06L326.5 662.81A7.07 4.12 0 0 1 326.5 656.98Z" fill="url(#g117)"/>
<path d="M340.7 656.9V661.3A11.8 6 0 0 0 364.3 661.3V656.9Z" fill="url(#g118)"/>
<path d="M340.7 640.1V656.9A11.8 6 0 0 0 364.3 656.9V640.1Z" fill="#DEEAFC"/>
<path d="M340.7 647A11.8 6 0 0 0 364.3 647v2.2A11.8 6 0 0 1 340.7 649.2Z" fill="url(#g119)"/>
<ellipse cx="352.5" cy="640.1" rx="11.8" ry="6" fill="#FFFFFF"/>
<path d="M398.1 704.69L420.1 691.86A7.07 4.12 0 0 1 430.1 691.86L452.1 704.69A7.07 4.12 0 0 1 452.1 710.52L430.1 723.34A7.07 4.12 0 0 1 420.1 723.34L398.1 710.52A7.07 4.12 0 0 1 398.1 704.69Z" fill="url(#g120)"/>
<path d="M399.1 698.19L420.1 685.94A7.07 4.12 0 0 1 430.1 685.94L451.1 698.19A7.07 4.12 0 0 1 451.1 704.02L430.1 716.26A7.07 4.12 0 0 1 420.1 716.26L399.1 704.02A7.07 4.12 0 0 1 399.1 698.19Z" fill="#E4EDFC"/>
<path d="M399.1 696.69L420.1 684.44A7.07 4.12 0 0 1 430.1 684.44L451.1 696.69A7.07 4.12 0 0 1 451.1 702.52L430.1 714.76A7.07 4.12 0 0 1 420.1 714.76L399.1 702.52A7.07 4.12 0 0 1 399.1 696.69Z" fill="url(#g121)"/>
<path d="M413.3 696.6V701A11.8 6 0 0 0 436.9 701V696.6Z" fill="url(#g122)"/>
<path d="M413.3 679.8V696.6A11.8 6 0 0 0 436.9 696.6V679.8Z" fill="#DEEAFC"/>
<path d="M413.3 686.7A11.8 6 0 0 0 436.9 686.7v2.2A11.8 6 0 0 1 413.3 688.9Z" fill="url(#g123)"/>
<ellipse cx="425.1" cy="679.8" rx="11.8" ry="6" fill="#FFFFFF"/>
<path d="M468.5 745.18L490.5 732.36A7.07 4.12 0 0 1 500.5 732.36L522.5 745.18A7.07 4.12 0 0 1 522.5 751.01L500.5 763.84A7.07 4.12 0 0 1 490.5 763.84L468.5 751.01A7.07 4.12 0 0 1 468.5 745.18Z" fill="url(#g124)"/>
<path d="M469.5 738.68L490.5 726.44A7.07 4.12 0 0 1 500.5 726.44L521.5 738.68A7.07 4.12 0 0 1 521.5 744.51L500.5 756.76A7.07 4.12 0 0 1 490.5 756.76L469.5 744.51A7.07 4.12 0 0 1 469.5 738.68Z" fill="#E4EDFC"/>
<path d="M469.5 737.18L490.5 724.94A7.07 4.12 0 0 1 500.5 724.94L521.5 737.18A7.07 4.12 0 0 1 521.5 743.01L500.5 755.26A7.07 4.12 0 0 1 490.5 755.26L469.5 743.01A7.07 4.12 0 0 1 469.5 737.18Z" fill="url(#g125)"/>
<path d="M483.7 737.1V741.5A11.8 6 0 0 0 507.3 741.5V737.1Z" fill="url(#g126)"/>
<path d="M483.7 720.3V737.1A11.8 6 0 0 0 507.3 737.1V720.3Z" fill="#DEEAFC"/>
<path d="M483.7 727.2A11.8 6 0 0 0 507.3 727.2v2.2A11.8 6 0 0 1 483.7 729.4Z" fill="url(#g127)"/>
<ellipse cx="495.5" cy="720.3" rx="11.8" ry="6" fill="#FFFFFF"/>
<path d="M543.2 788.78L565.2 775.96A7.07 4.12 0 0 1 575.2 775.96L597.2 788.78A7.07 4.12 0 0 1 597.2 794.62L575.2 807.44A7.07 4.12 0 0 1 565.2 807.44L543.2 794.62A7.07 4.12 0 0 1 543.2 788.78Z" fill="url(#g128)"/>
<path d="M544.2 782.28L565.2 770.04A7.07 4.12 0 0 1 575.2 770.04L596.2 782.28A7.07 4.12 0 0 1 596.2 788.12L575.2 800.36A7.07 4.12 0 0 1 565.2 800.36L544.2 788.12A7.07 4.12 0 0 1 544.2 782.28Z" fill="#E4EDFC"/>
<path d="M544.2 780.78L565.2 768.54A7.07 4.12 0 0 1 575.2 768.54L596.2 780.78A7.07 4.12 0 0 1 596.2 786.62L575.2 798.86A7.07 4.12 0 0 1 565.2 798.86L544.2 786.62A7.07 4.12 0 0 1 544.2 780.78Z" fill="url(#g129)"/>
<path d="M558.4 780.7V785.1A11.8 6 0 0 0 582 785.1V780.7Z" fill="url(#g130)"/>
<path d="M558.4 763.9V780.7A11.8 6 0 0 0 582 780.7V763.9Z" fill="#DEEAFC"/>
<path d="M558.4 770.8A11.8 6 0 0 0 582 770.8v2.2A11.8 6 0 0 1 558.4 773Z" fill="url(#g131)"/>
<ellipse cx="570.2" cy="763.9" rx="11.8" ry="6" fill="#FFFFFF"/>
<g fill="#141414" transform="matrix(0.87 0.5 0 1 322.71 664.89)" aria-label="其他"><text x="0" y="13.19" font-size="13">其他</text></g>
<g fill="#141414" transform="matrix(0.87 0.5 0 1 391.69 704.89)" aria-label="核心"><text x="0" y="13.19" font-size="13">核心</text></g>
<g fill="#141414" transform="matrix(0.87 0.5 0 1 462 747.2)" aria-label="ODS"><text x="0" y="13.19" font-size="13">ODS</text></g>
<g fill="#141414" transform="matrix(0.87 0.5 0 1 530.45 785.32)" aria-label="数据文件"><text x="0" y="13.19" font-size="13">数据文件</text></g>
<polygon points="233.3,480.7 261.6,529.3 247,520.33 247,546.2 216.5,528.42 216.5,502.54 200.3,493.1" fill="url(#g132)"/>
<polygon points="515.4,643.4 543.7,692 529.1,683.03 529.1,708.9 498.6,691.12 498.6,665.24 482.4,655.8" fill="url(#g133)"/>
</svg>
</body></html>
